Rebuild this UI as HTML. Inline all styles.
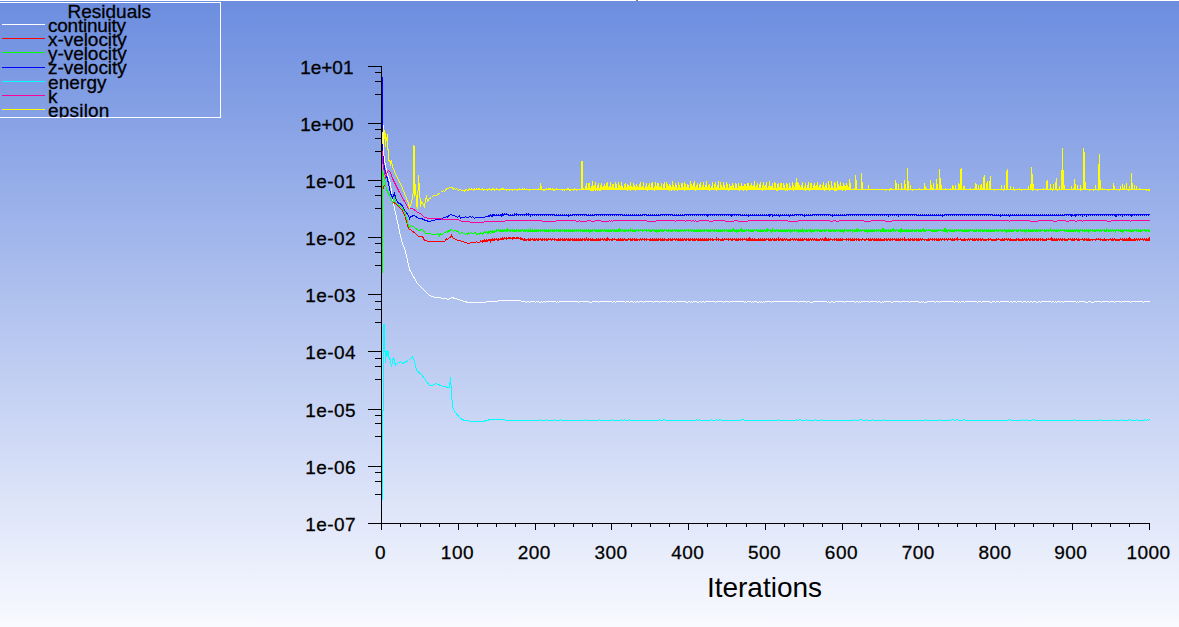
<!DOCTYPE html>
<html lang="en">
<head>
<meta charset="utf-8">
<title>Residuals</title>
<style>
  html, body { margin: 0; padding: 0; }
  body {
    width: 1179px; height: 627px; overflow: hidden;
    background: linear-gradient(to bottom, #6c8ddf 0px, #f9faff 627px);
    font-family: "Liberation Sans", Arial, sans-serif;
  }
  svg { display: block; position: absolute; left: 0; top: 0; }
  .crisp { shape-rendering: crispEdges; }
  text { font-family: "Liberation Sans", Arial, sans-serif; fill: #000; stroke: #000; stroke-width: 0.28px; }
  .legend text { font-size: 19px; letter-spacing: -0.12px; }
  .ticks text { font-size: 19px; letter-spacing: 0.45px; }
  .xlabel { font-size: 28px; stroke: none; }
  .curve { fill: none; stroke-width: 1; stroke-linejoin: miter; }
</style>
</head>
<body>
<svg width="1179" height="627" viewBox="0 0 1179 627">
  <defs>
    <clipPath id="legclip"><rect x="0" y="2" width="221" height="115.5"/></clipPath>
  </defs>
  <!-- window top edge -->
  <g class="crisp">
    <rect x="0" y="0" width="1179" height="1" fill="#ffffff"/>
    <rect x="636" y="0" width="2" height="1" fill="#857f6a"/>
  </g>

  <!-- legend -->
  <g class="legend">
    <g class="crisp" fill="none" stroke-width="1">
      <path d="M0,2.5 H220.5 V117.5 H0" stroke="#ffffff"/>
    </g>
    <g clip-path="url(#legclip)">
      <g class="crisp" fill="none" stroke-width="1">
        <path d="M2,24.5 H45" stroke="#ffffff" />
        <path d="M2,38.5 H45" stroke="#ff0000" />
        <path d="M2,52.5 H45" stroke="#00ff00" />
        <path d="M2,67.5 H45" stroke="#0000ff" />
        <path d="M2,81.5 H45" stroke="#00ffff" />
        <path d="M2,95.5 H45" stroke="#ff0099" />
        <path d="M2,109.5 H45" stroke="#ffff00" />
      </g>
      <text x="67.5" y="18" style="letter-spacing:0">Residuals</text>
      <text x="48" y="32.0" style="letter-spacing:-0.25px">continuity</text>
      <text x="48" y="46.1" style="letter-spacing:-0.05px">x-velocity</text>
      <text x="48" y="60.3" style="letter-spacing:-0.05px">y-velocity</text>
      <text x="48" y="74.4" style="letter-spacing:-0.05px">z-velocity</text>
      <text x="48" y="88.6" style="letter-spacing:0.10px">energy</text>
      <text x="48" y="102.7" style="letter-spacing:0.00px">k</text>
      <text x="48" y="116.8" style="letter-spacing:0.20px">epsilon</text>
    </g>
  </g>

  <!-- residual curves -->
  <g class="crisp">
    <polyline class="curve" stroke="#ffffff" points="383.5,124.5 383.5,150.5 384.5,160.5 385.5,165.5 387.5,174.5 390.5,183.5 392.5,199.5 394.5,208.5 398.5,226.5 401.5,240.5 405.5,251.5 409.5,269.5 417.5,283.5 429.5,295.5 435.5,297.5 445.5,298.5 448.5,299.5 451.5,297.5 455.5,298.5 464.5,301.5 468.5,302.5 485.5,302.5 486.5,301.5 497.5,301.5 498.5,300.5 520.5,300.5 521.5,301.5 522.5,301.5 523.5,301.5 524.5,301.5 525.5,301.5 526.5,302.5 527.5,301.5 528.5,301.5 529.5,302.5 530.5,301.5 531.5,301.5 532.5,301.5 533.5,301.5 534.5,301.5 535.5,302.5 536.5,301.5 537.5,301.5 538.5,301.5 539.5,302.5 540.5,302.5 541.5,301.5 542.5,302.5 543.5,301.5 544.5,301.5 545.5,302.5 546.5,301.5 547.5,301.5 548.5,301.5 549.5,301.5 550.5,301.5 551.5,301.5 552.5,301.5 553.5,301.5 554.5,301.5 555.5,301.5 556.5,302.5 557.5,301.5 558.5,302.5 559.5,301.5 560.5,301.5 561.5,301.5 562.5,301.5 563.5,301.5 564.5,301.5 565.5,301.5 566.5,301.5 567.5,301.5 568.5,301.5 569.5,301.5 570.5,301.5 571.5,301.5 572.5,301.5 573.5,301.5 574.5,301.5 575.5,301.5 576.5,301.5 577.5,301.5 578.5,302.5 579.5,301.5 580.5,301.5 581.5,301.5 582.5,301.5 583.5,301.5 584.5,301.5 585.5,301.5 586.5,301.5 587.5,301.5 588.5,301.5 589.5,302.5 590.5,302.5 591.5,302.5 592.5,301.5 593.5,301.5 594.5,301.5 595.5,301.5 596.5,301.5 597.5,301.5 598.5,302.5 599.5,301.5 600.5,301.5 601.5,301.5 602.5,301.5 603.5,301.5 604.5,301.5 605.5,301.5 606.5,301.5 607.5,301.5 608.5,301.5 609.5,301.5 610.5,301.5 611.5,301.5 612.5,302.5 613.5,301.5 614.5,301.5 615.5,302.5 616.5,301.5 617.5,301.5 618.5,301.5 619.5,301.5 620.5,301.5 621.5,301.5 622.5,301.5 623.5,301.5 624.5,301.5 625.5,302.5 626.5,301.5 627.5,301.5 628.5,301.5 629.5,302.5 630.5,301.5 631.5,301.5 632.5,301.5 633.5,302.5 634.5,301.5 635.5,302.5 636.5,301.5 637.5,301.5 638.5,302.5 639.5,301.5 640.5,301.5 641.5,301.5 642.5,301.5 643.5,302.5 644.5,301.5 645.5,301.5 646.5,301.5 647.5,301.5 648.5,301.5 649.5,301.5 650.5,301.5 651.5,301.5 652.5,301.5 653.5,302.5 654.5,301.5 655.5,301.5 656.5,301.5 657.5,301.5 658.5,301.5 659.5,302.5 660.5,301.5 661.5,301.5 662.5,301.5 663.5,301.5 664.5,301.5 665.5,301.5 666.5,301.5 667.5,302.5 668.5,301.5 669.5,301.5 670.5,301.5 671.5,301.5 672.5,302.5 673.5,301.5 674.5,301.5 675.5,302.5 676.5,301.5 677.5,301.5 678.5,301.5 679.5,301.5 680.5,301.5 681.5,301.5 682.5,301.5 683.5,301.5 684.5,301.5 685.5,301.5 686.5,302.5 687.5,302.5 688.5,301.5 689.5,301.5 690.5,302.5 691.5,301.5 692.5,302.5 693.5,301.5 694.5,301.5 695.5,301.5 696.5,301.5 697.5,302.5 698.5,302.5 699.5,301.5 700.5,301.5 701.5,302.5 702.5,301.5 703.5,301.5 704.5,302.5 705.5,301.5 706.5,301.5 707.5,301.5 708.5,301.5 709.5,301.5 710.5,301.5 711.5,301.5 712.5,301.5 713.5,301.5 714.5,301.5 715.5,302.5 716.5,301.5 717.5,301.5 718.5,301.5 719.5,301.5 720.5,301.5 721.5,301.5 722.5,301.5 723.5,302.5 724.5,301.5 725.5,301.5 726.5,301.5 727.5,301.5 728.5,301.5 729.5,302.5 730.5,301.5 731.5,301.5 732.5,301.5 733.5,301.5 734.5,301.5 735.5,301.5 736.5,301.5 737.5,301.5 738.5,301.5 739.5,301.5 740.5,301.5 741.5,301.5 742.5,301.5 743.5,301.5 744.5,302.5 745.5,301.5 746.5,302.5 747.5,301.5 748.5,301.5 749.5,301.5 750.5,301.5 751.5,302.5 752.5,301.5 753.5,302.5 754.5,301.5 755.5,301.5 756.5,301.5 757.5,302.5 758.5,302.5 759.5,301.5 760.5,302.5 761.5,301.5 762.5,302.5 763.5,301.5 764.5,302.5 765.5,301.5 766.5,301.5 767.5,301.5 768.5,301.5 769.5,301.5 770.5,301.5 771.5,302.5 772.5,301.5 773.5,301.5 774.5,301.5 775.5,301.5 776.5,301.5 777.5,301.5 778.5,301.5 779.5,301.5 780.5,301.5 781.5,301.5 782.5,301.5 783.5,301.5 784.5,301.5 785.5,301.5 786.5,301.5 787.5,301.5 788.5,301.5 789.5,301.5 790.5,301.5 791.5,301.5 792.5,301.5 793.5,301.5 794.5,301.5 795.5,301.5 796.5,301.5 797.5,301.5 798.5,302.5 799.5,301.5 800.5,301.5 801.5,301.5 802.5,301.5 803.5,301.5 804.5,301.5 805.5,301.5 806.5,302.5 807.5,301.5 808.5,301.5 809.5,301.5 810.5,302.5 811.5,302.5 812.5,302.5 813.5,301.5 814.5,301.5 815.5,301.5 816.5,301.5 817.5,301.5 818.5,301.5 819.5,301.5 820.5,301.5 821.5,301.5 822.5,301.5 823.5,301.5 824.5,301.5 825.5,301.5 826.5,301.5 827.5,302.5 828.5,301.5 829.5,302.5 830.5,302.5 831.5,301.5 832.5,301.5 833.5,302.5 834.5,302.5 835.5,301.5 836.5,301.5 837.5,301.5 838.5,301.5 839.5,301.5 840.5,301.5 841.5,301.5 842.5,301.5 843.5,301.5 844.5,302.5 845.5,301.5 846.5,301.5 847.5,301.5 848.5,301.5 849.5,301.5 850.5,301.5 851.5,301.5 852.5,301.5 853.5,301.5 854.5,301.5 855.5,302.5 856.5,301.5 857.5,301.5 858.5,302.5 859.5,301.5 860.5,302.5 861.5,301.5 862.5,301.5 863.5,301.5 864.5,301.5 865.5,301.5 866.5,301.5 867.5,301.5 868.5,301.5 869.5,302.5 870.5,301.5 871.5,301.5 872.5,301.5 873.5,301.5 874.5,301.5 875.5,301.5 876.5,301.5 877.5,302.5 878.5,301.5 879.5,301.5 880.5,302.5 881.5,302.5 882.5,301.5 883.5,302.5 884.5,301.5 885.5,301.5 886.5,301.5 887.5,301.5 888.5,301.5 889.5,301.5 890.5,301.5 891.5,302.5 892.5,302.5 893.5,301.5 894.5,301.5 895.5,301.5 896.5,301.5 897.5,301.5 898.5,301.5 899.5,301.5 900.5,302.5 901.5,301.5 902.5,301.5 903.5,301.5 904.5,301.5 905.5,301.5 906.5,301.5 907.5,301.5 908.5,301.5 909.5,302.5 910.5,301.5 911.5,301.5 912.5,301.5 913.5,301.5 914.5,301.5 915.5,301.5 916.5,301.5 917.5,301.5 918.5,301.5 919.5,302.5 920.5,302.5 921.5,301.5 922.5,302.5 923.5,301.5 924.5,302.5 925.5,302.5 926.5,302.5 927.5,301.5 928.5,301.5 929.5,301.5 930.5,301.5 931.5,301.5 932.5,301.5 933.5,301.5 934.5,301.5 935.5,302.5 936.5,301.5 937.5,301.5 938.5,301.5 939.5,302.5 940.5,301.5 941.5,301.5 942.5,301.5 943.5,301.5 944.5,301.5 945.5,301.5 946.5,301.5 947.5,301.5 948.5,301.5 949.5,301.5 950.5,301.5 951.5,301.5 952.5,301.5 953.5,301.5 954.5,302.5 955.5,301.5 956.5,301.5 957.5,301.5 958.5,302.5 959.5,301.5 960.5,302.5 961.5,301.5 962.5,301.5 963.5,301.5 964.5,302.5 965.5,301.5 966.5,301.5 967.5,301.5 968.5,301.5 969.5,301.5 970.5,301.5 971.5,301.5 972.5,301.5 973.5,301.5 974.5,301.5 975.5,301.5 976.5,301.5 977.5,302.5 978.5,301.5 979.5,301.5 980.5,301.5 981.5,302.5 982.5,301.5 983.5,301.5 984.5,301.5 985.5,301.5 986.5,301.5 987.5,301.5 988.5,301.5 989.5,301.5 990.5,302.5 991.5,302.5 992.5,301.5 993.5,301.5 994.5,301.5 995.5,302.5 996.5,301.5 997.5,301.5 998.5,301.5 999.5,302.5 1000.5,301.5 1001.5,301.5 1002.5,301.5 1003.5,301.5 1004.5,301.5 1005.5,301.5 1006.5,301.5 1007.5,301.5 1008.5,301.5 1009.5,302.5 1010.5,301.5 1011.5,301.5 1012.5,302.5 1013.5,301.5 1014.5,301.5 1015.5,301.5 1016.5,302.5 1017.5,301.5 1018.5,301.5 1019.5,301.5 1020.5,301.5 1021.5,301.5 1022.5,302.5 1023.5,301.5 1024.5,301.5 1025.5,301.5 1026.5,302.5 1027.5,301.5 1028.5,301.5 1029.5,302.5 1030.5,301.5 1031.5,301.5 1032.5,302.5 1033.5,301.5 1034.5,301.5 1035.5,301.5 1036.5,302.5 1037.5,302.5 1038.5,301.5 1039.5,301.5 1040.5,302.5 1041.5,301.5 1042.5,301.5 1043.5,301.5 1044.5,301.5 1045.5,301.5 1046.5,301.5 1047.5,301.5 1048.5,301.5 1049.5,301.5 1050.5,301.5 1051.5,302.5 1052.5,301.5 1053.5,301.5 1054.5,302.5 1055.5,301.5 1056.5,302.5 1057.5,301.5 1058.5,301.5 1059.5,301.5 1060.5,302.5 1061.5,301.5 1062.5,301.5 1063.5,302.5 1064.5,301.5 1065.5,301.5 1066.5,301.5 1067.5,301.5 1068.5,301.5 1069.5,301.5 1070.5,301.5 1071.5,301.5 1072.5,301.5 1073.5,301.5 1074.5,301.5 1075.5,301.5 1076.5,302.5 1077.5,301.5 1078.5,302.5 1079.5,301.5 1080.5,301.5 1081.5,301.5 1082.5,301.5 1083.5,301.5 1084.5,301.5 1085.5,302.5 1086.5,302.5 1087.5,302.5 1088.5,301.5 1089.5,301.5 1090.5,301.5 1091.5,302.5 1092.5,302.5 1093.5,302.5 1094.5,301.5 1095.5,301.5 1096.5,301.5 1097.5,301.5 1098.5,301.5 1099.5,301.5 1100.5,301.5 1101.5,302.5 1102.5,301.5 1103.5,301.5 1104.5,301.5 1105.5,301.5 1106.5,301.5 1107.5,301.5 1108.5,301.5 1109.5,302.5 1110.5,301.5 1111.5,301.5 1112.5,301.5 1113.5,301.5 1114.5,302.5 1115.5,301.5 1116.5,301.5 1117.5,301.5 1118.5,301.5 1119.5,301.5 1120.5,301.5 1121.5,302.5 1122.5,301.5 1123.5,301.5 1124.5,301.5 1125.5,301.5 1126.5,301.5 1127.5,301.5 1128.5,301.5 1129.5,301.5 1130.5,302.5 1131.5,301.5 1132.5,301.5 1133.5,301.5 1134.5,301.5 1135.5,301.5 1136.5,301.5 1137.5,301.5 1138.5,301.5 1139.5,301.5 1140.5,301.5 1141.5,301.5 1142.5,301.5 1143.5,302.5 1144.5,301.5 1145.5,301.5 1146.5,301.5 1147.5,301.5 1148.5,301.5 1149.5,301.5"/>
    <polyline class="curve" stroke="#ff0000" points="382.5,200.5 382.5,192.5 383.5,186.5 385.5,184.5 386.5,189.5 389.5,196.5 392.5,201.5 396.5,204.5 401.5,209.5 404.5,214.5 406.5,221.5 408.5,228.5 411.5,230.5 415.5,233.5 418.5,236.5 422.5,236.5 424.5,240.5 429.5,241.5 438.5,241.5 440.5,241.5 441.5,241.5 442.5,241.5 443.5,241.5 444.5,241.5 445.5,240.5 446.5,238.5 447.5,239.5 448.5,238.5 449.5,237.5 450.5,237.5 451.5,235.5 452.5,237.5 453.5,238.5 454.5,238.5 455.5,239.5 456.5,239.5 457.5,240.5 458.5,240.5 459.5,240.5 460.5,240.5 461.5,241.5 462.5,241.5 463.5,241.5 464.5,242.5 465.5,242.5 466.5,242.5 467.5,243.5 468.5,243.5 469.5,243.5 470.5,242.5 471.5,242.5 472.5,242.5 473.5,242.5 474.5,242.5 475.5,242.5 476.5,241.5 477.5,242.5 478.5,242.5 479.5,242.5 480.5,241.5 481.5,241.5 482.5,242.5 483.5,241.5 484.5,241.5 485.5,241.5 486.5,241.5 487.5,241.5 488.5,240.5 489.5,239.5 490.5,241.5 491.5,239.5 492.5,240.5 493.5,240.5 494.5,240.5 495.5,239.5 496.5,239.5 497.5,240.5 498.5,240.5 499.5,239.5 500.5,238.5 501.5,239.5 502.5,239.5 503.5,239.5 504.5,238.5 505.5,238.5 506.5,239.5 507.5,238.5 508.5,238.5 509.5,237.5 510.5,238.5 511.5,238.5 512.5,239.5 513.5,237.5 514.5,238.5 515.5,238.5 516.5,238.5 517.5,237.5 518.5,238.5 519.5,238.5 520.5,239.5 521.5,239.5 522.5,238.5"/>
    <path class="curve" stroke="#ff0000" d="M480.5,240 V242 M481.5,241 V242 M482.5,240 V242 M483.5,240 V241 M484.5,239 V241 M485.5,240 V241 M486.5,239 V241 M487.5,240 V241 M488.5,239 V241 M489.5,240 V241 M490.5,239 V241 M491.5,239 V240 M492.5,238 V240 M493.5,239 V240 M494.5,238 V240 M495.5,239 V240 M496.5,238 V240 M497.5,239 V240 M498.5,238 V240 M499.5,239 V240 M500.5,238 V240 M501.5,238 V239 M502.5,237 V239 M503.5,238 V239 M504.5,237 V239 M505.5,238 V239 M506.5,237 V239 M507.5,238 V239 M508.5,237 V239 M509.5,238 V239 M510.5,237 V239 M511.5,238 V239 M512.5,237 V239 M513.5,238 V239 M514.5,237 V239 M515.5,238 V239 M516.5,237 V239 M517.5,238 V239 M518.5,237 V239 M519.5,238 V239 M520.5,237 V239 M521.5,238 V239 M522.5,238 V240 M523.5,239 V241 M524.5,238 V241 M525.5,239 V241 M526.5,239 V241 M527.5,239 V240 M528.5,238 V241 M529.5,239 V241 M530.5,238 V241 M531.5,239 V240 M532.5,238 V240 M533.5,239 V241 M534.5,238 V241 M535.5,239 V241 M536.5,238 V240 M537.5,239 V241 M538.5,238 V241 M539.5,239 V240 M540.5,238 V240 M541.5,239 V241 M542.5,238 V241 M543.5,239 V240 M544.5,238 V241 M545.5,239 V240 M546.5,238 V241 M547.5,239 V241 M548.5,238 V240 M549.5,239 V240 M550.5,238 V240 M551.5,239 V241 M552.5,238 V240 M553.5,239 V240 M554.5,238 V241 M555.5,239 V240 M556.5,239 V241 M557.5,239 V241 M558.5,238 V241 M559.5,239 V241 M560.5,238 V241 M561.5,239 V240 M562.5,238 V241 M563.5,239 V241 M564.5,238 V241 M565.5,239 V241 M566.5,238 V240 M567.5,239 V241 M568.5,238 V241 M569.5,239 V241 M570.5,238 V241 M571.5,239 V240 M572.5,238 V241 M573.5,239 V241 M574.5,238 V241 M575.5,239 V241 M576.5,238 V241 M577.5,239 V241 M578.5,238 V241 M579.5,239 V241 M580.5,238 V241 M581.5,239 V241 M582.5,238 V241 M583.5,239 V240 M584.5,238 V241 M585.5,239 V241 M586.5,237 V240 M587.5,239 V241 M588.5,238 V241 M589.5,239 V240 M590.5,238 V241 M591.5,239 V241 M592.5,238 V241 M593.5,239 V241 M594.5,239 V241 M595.5,239 V241 M596.5,238 V241 M597.5,239 V241 M598.5,238 V241 M599.5,239 V241 M600.5,238 V241 M601.5,239 V240 M602.5,238 V240 M603.5,239 V241 M604.5,238 V240 M605.5,239 V241 M606.5,238 V241 M607.5,237 V241 M608.5,238 V240 M609.5,239 V241 M610.5,239 V240 M611.5,239 V241 M612.5,238 V241 M613.5,239 V240 M614.5,238 V240 M615.5,239 V240 M616.5,239 V241 M617.5,239 V241 M618.5,238 V241 M619.5,239 V241 M620.5,238 V241 M621.5,239 V241 M622.5,238 V241 M623.5,239 V241 M624.5,238 V240 M625.5,239 V241 M626.5,239 V241 M627.5,239 V241 M628.5,238 V240 M629.5,239 V240 M630.5,238 V241 M631.5,239 V241 M632.5,238 V241 M633.5,239 V240 M634.5,238 V241 M635.5,239 V241 M636.5,238 V241 M637.5,239 V241 M638.5,239 V240 M639.5,239 V241 M640.5,238 V240 M641.5,239 V241 M642.5,238 V240 M643.5,239 V240 M644.5,238 V241 M645.5,239 V240 M646.5,238 V241 M647.5,239 V240 M648.5,239 V240 M649.5,239 V241 M650.5,238 V241 M651.5,239 V241 M652.5,238 V241 M653.5,239 V241 M654.5,238 V241 M655.5,239 V241 M656.5,238 V241 M657.5,239 V241 M658.5,238 V241 M659.5,239 V240 M660.5,238 V241 M661.5,239 V241 M662.5,238 V241 M663.5,239 V241 M664.5,238 V241 M665.5,239 V240 M666.5,239 V241 M667.5,239 V241 M668.5,238 V241 M669.5,239 V240 M670.5,238 V241 M671.5,239 V241 M672.5,238 V241 M673.5,239 V240 M674.5,238 V240 M675.5,239 V241 M676.5,238 V240 M677.5,239 V241 M678.5,238 V241 M679.5,239 V241 M680.5,238 V241 M681.5,239 V241 M682.5,238 V241 M683.5,239 V241 M684.5,238 V240 M685.5,239 V241 M686.5,238 V241 M687.5,239 V240 M688.5,238 V241 M689.5,239 V241 M690.5,238 V241 M691.5,239 V240 M692.5,238 V241 M693.5,239 V241 M694.5,238 V241 M695.5,239 V241 M696.5,238 V240 M697.5,239 V241 M698.5,238 V241 M699.5,239 V241 M700.5,238 V241 M701.5,239 V241 M702.5,238 V241 M703.5,239 V241 M704.5,238 V241 M705.5,239 V241 M706.5,238 V241 M707.5,239 V241 M708.5,238 V241 M709.5,239 V240 M710.5,238 V241 M711.5,239 V240 M712.5,238 V241 M713.5,239 V241 M714.5,239 V240 M715.5,239 V240 M716.5,237 V241 M717.5,239 V240 M718.5,238 V241 M719.5,239 V240 M720.5,239 V241 M721.5,239 V241 M722.5,238 V241 M723.5,239 V241 M724.5,238 V240 M725.5,239 V240 M726.5,238 V240 M727.5,239 V240 M728.5,238 V241 M729.5,239 V240 M730.5,238 V240 M731.5,239 V241 M732.5,238 V241 M733.5,239 V240 M734.5,238 V240 M735.5,239 V241 M736.5,238 V241 M737.5,239 V241 M738.5,238 V241 M739.5,239 V240 M740.5,238 V241 M741.5,239 V240 M742.5,238 V241 M743.5,239 V240 M744.5,238 V240 M745.5,239 V240 M746.5,238 V241 M747.5,239 V241 M748.5,238 V241 M749.5,237 V241 M750.5,238 V241 M751.5,239 V241 M752.5,238 V241 M753.5,239 V241 M754.5,238 V241 M755.5,239 V241 M756.5,239 V241 M757.5,239 V241 M758.5,238 V241 M759.5,239 V241 M760.5,238 V241 M761.5,239 V241 M762.5,238 V241 M763.5,239 V241 M764.5,238 V241 M765.5,239 V241 M766.5,238 V240 M767.5,239 V240 M768.5,238 V241 M769.5,239 V241 M770.5,238 V241 M771.5,239 V241 M772.5,238 V240 M773.5,239 V241 M774.5,238 V241 M775.5,239 V241 M776.5,238 V241 M777.5,239 V240 M778.5,237 V241 M779.5,239 V241 M780.5,238 V240 M781.5,239 V241 M782.5,238 V241 M783.5,239 V241 M784.5,238 V240 M785.5,239 V241 M786.5,238 V240 M787.5,239 V241 M788.5,239 V241 M789.5,239 V241 M790.5,238 V241 M791.5,239 V240 M792.5,238 V240 M793.5,239 V241 M794.5,238 V240 M795.5,239 V241 M796.5,238 V240 M797.5,239 V241 M798.5,238 V241 M799.5,239 V241 M800.5,238 V241 M801.5,239 V241 M802.5,238 V241 M803.5,239 V241 M804.5,238 V240 M805.5,239 V240 M806.5,238 V241 M807.5,239 V241 M808.5,238 V241 M809.5,239 V241 M810.5,238 V240 M811.5,239 V241 M812.5,238 V240 M813.5,239 V241 M814.5,238 V240 M815.5,239 V241 M816.5,238 V241 M817.5,239 V241 M818.5,239 V241 M819.5,239 V241 M820.5,238 V240 M821.5,239 V241 M822.5,238 V240 M823.5,239 V241 M824.5,238 V241 M825.5,237 V241 M826.5,238 V241 M827.5,239 V241 M828.5,238 V241 M829.5,239 V241 M830.5,238 V240 M831.5,239 V240 M832.5,239 V241 M833.5,239 V240 M834.5,238 V241 M835.5,239 V240 M836.5,238 V241 M837.5,239 V241 M838.5,238 V241 M839.5,239 V241 M840.5,238 V241 M841.5,239 V241 M842.5,238 V241 M843.5,239 V240 M844.5,239 V240 M845.5,239 V240 M846.5,238 V241 M847.5,239 V240 M848.5,238 V241 M849.5,239 V240 M850.5,238 V241 M851.5,239 V241 M852.5,238 V241 M853.5,239 V241 M854.5,238 V241 M855.5,239 V240 M856.5,238 V241 M857.5,239 V240 M858.5,238 V241 M859.5,239 V241 M860.5,239 V240 M861.5,239 V241 M862.5,238 V240 M863.5,239 V240 M864.5,239 V241 M865.5,239 V241 M866.5,238 V240 M867.5,239 V240 M868.5,238 V241 M869.5,239 V241 M870.5,238 V241 M871.5,239 V241 M872.5,238 V240 M873.5,239 V241 M874.5,238 V241 M875.5,239 V241 M876.5,238 V241 M877.5,239 V241 M878.5,238 V241 M879.5,239 V241 M880.5,238 V241 M881.5,239 V241 M882.5,239 V241 M883.5,239 V241 M884.5,238 V241 M885.5,239 V240 M886.5,238 V241 M887.5,239 V241 M888.5,238 V240 M889.5,239 V241 M890.5,238 V241 M891.5,239 V240 M892.5,238 V241 M893.5,239 V240 M894.5,238 V240 M895.5,239 V241 M896.5,238 V241 M897.5,239 V241 M898.5,238 V241 M899.5,239 V241 M900.5,238 V241 M901.5,239 V240 M902.5,238 V241 M903.5,239 V240 M904.5,237 V241 M905.5,239 V241 M906.5,239 V241 M907.5,239 V240 M908.5,238 V241 M909.5,239 V241 M910.5,238 V241 M911.5,239 V240 M912.5,238 V241 M913.5,239 V241 M914.5,238 V241 M915.5,239 V240 M916.5,238 V241 M917.5,239 V241 M918.5,238 V241 M919.5,239 V241 M920.5,238 V240 M921.5,239 V241 M922.5,238 V240 M923.5,239 V240 M924.5,239 V241 M925.5,239 V240 M926.5,239 V241 M927.5,239 V241 M928.5,238 V241 M929.5,239 V241 M930.5,238 V240 M931.5,239 V240 M932.5,238 V241 M933.5,239 V240 M934.5,238 V241 M935.5,239 V240 M936.5,238 V241 M937.5,239 V241 M938.5,238 V241 M939.5,239 V241 M940.5,238 V240 M941.5,239 V241 M942.5,238 V240 M943.5,239 V240 M944.5,238 V241 M945.5,239 V240 M946.5,238 V240 M947.5,239 V241 M948.5,238 V240 M949.5,239 V240 M950.5,238 V240 M951.5,239 V241 M952.5,238 V241 M953.5,239 V241 M954.5,238 V241 M955.5,239 V240 M956.5,238 V240 M957.5,237 V241 M958.5,239 V240 M959.5,239 V240 M960.5,238 V240 M961.5,239 V241 M962.5,239 V241 M963.5,239 V241 M964.5,238 V241 M965.5,239 V241 M966.5,239 V240 M967.5,239 V241 M968.5,238 V240 M969.5,239 V241 M970.5,238 V240 M971.5,239 V240 M972.5,238 V241 M973.5,239 V241 M974.5,238 V241 M975.5,239 V241 M976.5,238 V240 M977.5,239 V241 M978.5,238 V241 M979.5,239 V240 M980.5,238 V241 M981.5,239 V241 M982.5,238 V240 M983.5,239 V241 M984.5,239 V241 M985.5,239 V241 M986.5,239 V241 M987.5,239 V240 M988.5,238 V241 M989.5,239 V240 M990.5,238 V240 M991.5,239 V241 M992.5,239 V241 M993.5,239 V241 M994.5,239 V241 M995.5,239 V241 M996.5,238 V241 M997.5,239 V240 M998.5,238 V240 M999.5,239 V240 M1000.5,239 V241 M1001.5,239 V241 M1002.5,238 V241 M1003.5,239 V241 M1004.5,238 V241 M1005.5,239 V240 M1006.5,238 V240 M1007.5,239 V241 M1008.5,238 V240 M1009.5,239 V241 M1010.5,238 V241 M1011.5,239 V241 M1012.5,239 V241 M1013.5,239 V241 M1014.5,239 V241 M1015.5,239 V241 M1016.5,238 V241 M1017.5,239 V240 M1018.5,238 V241 M1019.5,239 V241 M1020.5,239 V241 M1021.5,239 V241 M1022.5,238 V241 M1023.5,239 V241 M1024.5,238 V240 M1025.5,239 V241 M1026.5,238 V241 M1027.5,239 V241 M1028.5,238 V240 M1029.5,239 V241 M1030.5,238 V241 M1031.5,239 V240 M1032.5,238 V241 M1033.5,239 V241 M1034.5,238 V241 M1035.5,239 V240 M1036.5,238 V241 M1037.5,239 V241 M1038.5,238 V241 M1039.5,239 V240 M1040.5,238 V241 M1041.5,239 V240 M1042.5,238 V241 M1043.5,239 V241 M1044.5,239 V241 M1045.5,239 V241 M1046.5,238 V241 M1047.5,239 V240 M1048.5,238 V240 M1049.5,239 V240 M1050.5,238 V240 M1051.5,237 V241 M1052.5,238 V241 M1053.5,239 V241 M1054.5,238 V241 M1055.5,239 V241 M1056.5,238 V241 M1057.5,239 V241 M1058.5,238 V240 M1059.5,239 V241 M1060.5,238 V240 M1061.5,239 V241 M1062.5,238 V241 M1063.5,239 V240 M1064.5,238 V241 M1065.5,239 V241 M1066.5,239 V241 M1067.5,239 V241 M1068.5,238 V240 M1069.5,239 V240 M1070.5,238 V240 M1071.5,239 V241 M1072.5,238 V241 M1073.5,239 V241 M1074.5,238 V241 M1075.5,239 V240 M1076.5,238 V240 M1077.5,239 V241 M1078.5,238 V241 M1079.5,239 V241 M1080.5,239 V240 M1081.5,239 V240 M1082.5,238 V240 M1083.5,239 V241 M1084.5,238 V241 M1085.5,239 V240 M1086.5,238 V241 M1087.5,239 V241 M1088.5,238 V241 M1089.5,239 V241 M1090.5,239 V241 M1091.5,239 V240 M1092.5,239 V241 M1093.5,239 V240 M1094.5,239 V240 M1095.5,239 V241 M1096.5,238 V240 M1097.5,239 V240 M1098.5,238 V240 M1099.5,239 V240 M1100.5,238 V241 M1101.5,239 V240 M1102.5,239 V241 M1103.5,239 V241 M1104.5,238 V241 M1105.5,239 V241 M1106.5,239 V241 M1107.5,239 V240 M1108.5,239 V241 M1109.5,239 V240 M1110.5,238 V240 M1111.5,239 V241 M1112.5,238 V241 M1113.5,239 V241 M1114.5,238 V240 M1115.5,239 V241 M1116.5,239 V241 M1117.5,239 V241 M1118.5,239 V241 M1119.5,239 V241 M1120.5,238 V240 M1121.5,239 V240 M1122.5,238 V241 M1123.5,239 V241 M1124.5,238 V241 M1125.5,239 V241 M1126.5,238 V241 M1127.5,239 V241 M1128.5,238 V241 M1129.5,237 V241 M1130.5,238 V241 M1131.5,239 V241 M1132.5,239 V241 M1133.5,239 V241 M1134.5,238 V241 M1135.5,239 V241 M1136.5,238 V240 M1137.5,239 V241 M1138.5,238 V240 M1139.5,239 V241 M1140.5,238 V240 M1141.5,239 V240 M1142.5,238 V240 M1143.5,239 V241 M1144.5,238 V240 M1145.5,239 V241 M1146.5,238 V241 M1147.5,239 V241 M1148.5,238 V241 M1149.5,237 V241"/>
    <polyline class="curve" stroke="#00ff00" points="382.5,272.5 382.5,170.5 384.5,178.5 386.5,189.5 389.5,195.5 392.5,202.5 394.5,197.5 395.5,202.5 397.5,204.5 401.5,207.5 404.5,211.5 406.5,218.5 408.5,225.5 409.5,227.5 411.5,225.5 414.5,227.5 418.5,230.5 422.5,229.5 425.5,233.5 430.5,233.5 431.5,234.5 432.5,234.5 433.5,234.5 434.5,234.5 435.5,234.5 436.5,233.5 437.5,234.5 438.5,233.5 439.5,235.5 440.5,233.5 441.5,234.5 442.5,234.5 443.5,233.5 444.5,232.5 445.5,232.5 446.5,231.5 447.5,232.5 448.5,230.5 449.5,231.5 450.5,229.5 451.5,229.5 452.5,230.5 453.5,231.5 454.5,230.5 455.5,230.5 456.5,231.5 457.5,230.5 458.5,232.5 459.5,233.5 460.5,233.5 461.5,232.5 462.5,232.5 463.5,233.5 464.5,233.5 465.5,234.5 466.5,233.5 467.5,234.5 468.5,232.5 469.5,233.5 470.5,233.5 471.5,232.5 472.5,233.5 473.5,233.5 474.5,232.5 475.5,232.5 476.5,234.5 477.5,234.5 478.5,233.5 479.5,234.5 480.5,232.5 481.5,233.5 482.5,234.5 483.5,232.5 484.5,232.5 485.5,232.5 486.5,232.5 487.5,233.5 488.5,232.5 489.5,232.5 490.5,233.5 491.5,232.5 492.5,231.5 493.5,232.5 494.5,230.5 495.5,231.5 496.5,231.5 497.5,230.5 498.5,230.5 499.5,230.5 500.5,231.5 501.5,230.5 502.5,231.5 503.5,230.5"/>
    <path class="curve" stroke="#00ff00" d="M484.5,231 V233 M485.5,232 V233 M486.5,231 V233 M487.5,232 V234 M488.5,231 V234 M489.5,231 V233 M490.5,230 V232 M491.5,231 V233 M492.5,230 V233 M493.5,231 V233 M494.5,230 V233 M495.5,231 V232 M496.5,229 V232 M497.5,230 V231 M498.5,229 V231 M499.5,230 V232 M500.5,229 V231 M501.5,230 V232 M502.5,229 V232 M503.5,230 V232 M504.5,229 V232 M505.5,230 V231 M506.5,229 V232 M507.5,228 V232 M508.5,229 V231 M509.5,230 V232 M510.5,229 V232 M511.5,230 V231 M512.5,229 V232 M513.5,230 V232 M514.5,229 V232 M515.5,230 V232 M516.5,229 V232 M517.5,230 V231 M518.5,229 V232 M519.5,230 V232 M520.5,229 V232 M521.5,230 V231 M522.5,229 V231 M523.5,230 V232 M524.5,229 V232 M525.5,230 V232 M526.5,229 V231 M527.5,230 V232 M528.5,229 V232 M529.5,230 V232 M530.5,228 V232 M531.5,230 V232 M532.5,229 V232 M533.5,230 V232 M534.5,229 V232 M535.5,230 V232 M536.5,229 V232 M537.5,230 V232 M538.5,229 V232 M539.5,230 V231 M540.5,229 V232 M541.5,230 V231 M542.5,229 V232 M543.5,230 V231 M544.5,229 V232 M545.5,230 V232 M546.5,229 V232 M547.5,230 V232 M548.5,229 V232 M549.5,230 V232 M550.5,229 V232 M551.5,230 V231 M552.5,229 V232 M553.5,230 V232 M554.5,229 V232 M555.5,230 V231 M556.5,229 V232 M557.5,230 V231 M558.5,229 V232 M559.5,230 V232 M560.5,229 V232 M561.5,230 V231 M562.5,229 V232 M563.5,230 V231 M564.5,229 V232 M565.5,230 V232 M566.5,229 V232 M567.5,230 V231 M568.5,229 V232 M569.5,230 V232 M570.5,229 V232 M571.5,230 V232 M572.5,229 V232 M573.5,230 V232 M574.5,229 V232 M575.5,230 V231 M576.5,229 V232 M577.5,230 V231 M578.5,229 V232 M579.5,230 V231 M580.5,229 V232 M581.5,230 V231 M582.5,229 V232 M583.5,230 V232 M584.5,229 V232 M585.5,230 V232 M586.5,229 V232 M587.5,230 V231 M588.5,229 V232 M589.5,230 V233 M590.5,229 V232 M591.5,230 V232 M592.5,229 V232 M593.5,230 V231 M594.5,229 V231 M595.5,230 V232 M596.5,229 V232 M597.5,230 V232 M598.5,229 V232 M599.5,230 V232 M600.5,229 V232 M601.5,230 V232 M602.5,229 V231 M603.5,230 V232 M604.5,229 V231 M605.5,230 V232 M606.5,229 V232 M607.5,230 V232 M608.5,229 V232 M609.5,230 V232 M610.5,229 V232 M611.5,230 V232 M612.5,229 V231 M613.5,230 V232 M614.5,229 V232 M615.5,230 V232 M616.5,229 V232 M617.5,230 V232 M618.5,229 V232 M619.5,228 V232 M620.5,229 V231 M621.5,230 V232 M622.5,229 V231 M623.5,230 V232 M624.5,229 V232 M625.5,230 V232 M626.5,229 V231 M627.5,230 V232 M628.5,229 V232 M629.5,230 V231 M630.5,228 V232 M631.5,230 V231 M632.5,229 V232 M633.5,230 V232 M634.5,229 V232 M635.5,230 V232 M636.5,229 V231 M637.5,230 V231 M638.5,229 V232 M639.5,230 V231 M640.5,229 V231 M641.5,230 V231 M642.5,229 V232 M643.5,230 V231 M644.5,229 V231 M645.5,230 V231 M646.5,229 V232 M647.5,230 V231 M648.5,229 V231 M649.5,230 V232 M650.5,229 V232 M651.5,230 V232 M652.5,229 V231 M653.5,230 V231 M654.5,229 V232 M655.5,230 V232 M656.5,229 V233 M657.5,230 V232 M658.5,229 V232 M659.5,230 V232 M660.5,229 V231 M661.5,230 V232 M662.5,229 V232 M663.5,230 V232 M664.5,229 V231 M665.5,230 V231 M666.5,229 V231 M667.5,230 V232 M668.5,229 V232 M669.5,230 V231 M670.5,229 V232 M671.5,230 V232 M672.5,229 V232 M673.5,230 V231 M674.5,229 V231 M675.5,230 V232 M676.5,229 V231 M677.5,230 V232 M678.5,229 V232 M679.5,230 V232 M680.5,229 V231 M681.5,230 V232 M682.5,229 V231 M683.5,230 V232 M684.5,229 V231 M685.5,230 V232 M686.5,229 V231 M687.5,230 V231 M688.5,229 V232 M689.5,230 V231 M690.5,229 V231 M691.5,230 V232 M692.5,229 V231 M693.5,230 V232 M694.5,229 V232 M695.5,230 V232 M696.5,229 V232 M697.5,230 V232 M698.5,229 V232 M699.5,230 V232 M700.5,229 V232 M701.5,230 V232 M702.5,229 V231 M703.5,230 V232 M704.5,229 V232 M705.5,230 V231 M706.5,229 V231 M707.5,230 V232 M708.5,229 V232 M709.5,230 V232 M710.5,229 V232 M711.5,230 V231 M712.5,229 V231 M713.5,230 V232 M714.5,229 V232 M715.5,230 V231 M716.5,229 V232 M717.5,230 V232 M718.5,229 V232 M719.5,230 V232 M720.5,229 V232 M721.5,230 V232 M722.5,229 V232 M723.5,230 V231 M724.5,229 V232 M725.5,230 V231 M726.5,229 V231 M727.5,230 V232 M728.5,229 V232 M729.5,230 V232 M730.5,229 V232 M731.5,230 V232 M732.5,229 V232 M733.5,228 V231 M734.5,229 V232 M735.5,230 V232 M736.5,229 V233 M737.5,230 V232 M738.5,229 V232 M739.5,230 V232 M740.5,229 V231 M741.5,228 V232 M742.5,229 V232 M743.5,230 V232 M744.5,229 V232 M745.5,230 V232 M746.5,229 V231 M747.5,230 V231 M748.5,229 V232 M749.5,230 V231 M750.5,229 V232 M751.5,230 V232 M752.5,229 V232 M753.5,230 V232 M754.5,229 V231 M755.5,230 V231 M756.5,229 V231 M757.5,230 V232 M758.5,229 V232 M759.5,230 V232 M760.5,229 V232 M761.5,230 V232 M762.5,229 V232 M763.5,230 V232 M764.5,229 V231 M765.5,230 V232 M766.5,229 V232 M767.5,228 V232 M768.5,229 V231 M769.5,230 V231 M770.5,229 V232 M771.5,230 V233 M772.5,228 V232 M773.5,230 V231 M774.5,229 V232 M775.5,230 V232 M776.5,229 V231 M777.5,230 V232 M778.5,229 V232 M779.5,230 V232 M780.5,229 V232 M781.5,230 V232 M782.5,229 V232 M783.5,230 V232 M784.5,229 V232 M785.5,230 V232 M786.5,229 V232 M787.5,230 V232 M788.5,229 V231 M789.5,230 V232 M790.5,229 V233 M791.5,230 V232 M792.5,229 V232 M793.5,230 V231 M794.5,229 V232 M795.5,230 V231 M796.5,229 V231 M797.5,230 V232 M798.5,229 V233 M799.5,230 V232 M800.5,229 V232 M801.5,230 V232 M802.5,228 V232 M803.5,230 V233 M804.5,229 V231 M805.5,230 V232 M806.5,229 V232 M807.5,230 V232 M808.5,229 V231 M809.5,230 V232 M810.5,229 V232 M811.5,230 V233 M812.5,229 V232 M813.5,230 V232 M814.5,229 V232 M815.5,230 V231 M816.5,229 V231 M817.5,230 V232 M818.5,229 V231 M819.5,230 V232 M820.5,229 V232 M821.5,230 V232 M822.5,229 V232 M823.5,230 V231 M824.5,229 V232 M825.5,230 V232 M826.5,229 V231 M827.5,230 V231 M828.5,229 V232 M829.5,230 V232 M830.5,229 V232 M831.5,230 V232 M832.5,229 V231 M833.5,230 V232 M834.5,229 V232 M835.5,230 V232 M836.5,229 V231 M837.5,230 V232 M838.5,229 V231 M839.5,230 V232 M840.5,229 V232 M841.5,230 V232 M842.5,229 V232 M843.5,230 V233 M844.5,229 V232 M845.5,230 V231 M846.5,229 V231 M847.5,230 V232 M848.5,229 V232 M849.5,230 V231 M850.5,229 V232 M851.5,230 V231 M852.5,229 V233 M853.5,230 V231 M854.5,229 V232 M855.5,230 V232 M856.5,229 V232 M857.5,228 V232 M858.5,229 V231 M859.5,230 V232 M860.5,229 V231 M861.5,230 V232 M862.5,229 V231 M863.5,230 V231 M864.5,229 V232 M865.5,230 V232 M866.5,229 V232 M867.5,230 V233 M868.5,229 V232 M869.5,230 V232 M870.5,229 V232 M871.5,230 V232 M872.5,229 V232 M873.5,230 V232 M874.5,229 V232 M875.5,230 V231 M876.5,229 V232 M877.5,230 V231 M878.5,229 V232 M879.5,230 V231 M880.5,229 V232 M881.5,230 V232 M882.5,228 V232 M883.5,228 V232 M884.5,229 V232 M885.5,230 V232 M886.5,229 V232 M887.5,230 V231 M888.5,229 V232 M889.5,230 V232 M890.5,229 V232 M891.5,230 V232 M892.5,229 V231 M893.5,228 V232 M894.5,229 V231 M895.5,230 V232 M896.5,229 V231 M897.5,230 V231 M898.5,229 V232 M899.5,230 V232 M900.5,229 V233 M901.5,228 V232 M902.5,229 V232 M903.5,230 V232 M904.5,229 V232 M905.5,230 V232 M906.5,229 V232 M907.5,230 V232 M908.5,229 V232 M909.5,230 V232 M910.5,229 V232 M911.5,230 V232 M912.5,229 V232 M913.5,230 V231 M914.5,229 V232 M915.5,230 V232 M916.5,229 V232 M917.5,230 V231 M918.5,229 V232 M919.5,230 V232 M920.5,229 V232 M921.5,230 V232 M922.5,229 V231 M923.5,228 V232 M924.5,229 V232 M925.5,230 V232 M926.5,229 V231 M927.5,230 V231 M928.5,229 V231 M929.5,230 V231 M930.5,229 V231 M931.5,230 V232 M932.5,229 V232 M933.5,230 V232 M934.5,229 V232 M935.5,230 V232 M936.5,229 V232 M937.5,230 V232 M938.5,229 V231 M939.5,230 V231 M940.5,229 V231 M941.5,230 V231 M942.5,229 V231 M943.5,230 V232 M944.5,228 V232 M945.5,228 V232 M946.5,229 V232 M947.5,230 V233 M948.5,229 V231 M949.5,230 V232 M950.5,229 V232 M951.5,230 V232 M952.5,229 V232 M953.5,230 V232 M954.5,229 V232 M955.5,230 V231 M956.5,229 V232 M957.5,230 V231 M958.5,229 V231 M959.5,230 V232 M960.5,229 V231 M961.5,230 V232 M962.5,229 V232 M963.5,230 V232 M964.5,229 V232 M965.5,230 V232 M966.5,229 V232 M967.5,230 V232 M968.5,229 V232 M969.5,230 V232 M970.5,229 V231 M971.5,230 V231 M972.5,229 V231 M973.5,230 V232 M974.5,229 V232 M975.5,230 V232 M976.5,229 V232 M977.5,230 V231 M978.5,229 V232 M979.5,230 V232 M980.5,229 V232 M981.5,230 V231 M982.5,229 V232 M983.5,230 V232 M984.5,229 V232 M985.5,230 V231 M986.5,229 V232 M987.5,230 V232 M988.5,229 V232 M989.5,230 V232 M990.5,229 V232 M991.5,230 V232 M992.5,229 V232 M993.5,230 V232 M994.5,229 V232 M995.5,230 V231 M996.5,229 V231 M997.5,230 V232 M998.5,229 V232 M999.5,230 V231 M1000.5,229 V231 M1001.5,230 V232 M1002.5,229 V232 M1003.5,230 V231 M1004.5,229 V231 M1005.5,230 V232 M1006.5,229 V233 M1007.5,230 V232 M1008.5,229 V232 M1009.5,230 V232 M1010.5,229 V232 M1011.5,230 V232 M1012.5,229 V232 M1013.5,230 V232 M1014.5,229 V231 M1015.5,230 V231 M1016.5,229 V232 M1017.5,230 V232 M1018.5,229 V232 M1019.5,230 V231 M1020.5,229 V231 M1021.5,230 V232 M1022.5,229 V232 M1023.5,230 V231 M1024.5,229 V232 M1025.5,230 V233 M1026.5,229 V232 M1027.5,230 V231 M1028.5,229 V232 M1029.5,230 V232 M1030.5,229 V232 M1031.5,230 V232 M1032.5,229 V232 M1033.5,230 V232 M1034.5,229 V231 M1035.5,230 V232 M1036.5,229 V232 M1037.5,230 V232 M1038.5,229 V231 M1039.5,230 V232 M1040.5,229 V232 M1041.5,230 V231 M1042.5,229 V231 M1043.5,230 V231 M1044.5,229 V232 M1045.5,230 V232 M1046.5,229 V232 M1047.5,230 V231 M1048.5,229 V232 M1049.5,230 V231 M1050.5,228 V231 M1051.5,230 V232 M1052.5,229 V231 M1053.5,230 V232 M1054.5,229 V231 M1055.5,230 V232 M1056.5,229 V232 M1057.5,230 V232 M1058.5,229 V231 M1059.5,230 V232 M1060.5,229 V231 M1061.5,230 V231 M1062.5,229 V231 M1063.5,230 V231 M1064.5,229 V232 M1065.5,230 V231 M1066.5,229 V232 M1067.5,230 V232 M1068.5,229 V232 M1069.5,230 V232 M1070.5,229 V232 M1071.5,230 V232 M1072.5,229 V232 M1073.5,230 V232 M1074.5,229 V232 M1075.5,230 V232 M1076.5,229 V231 M1077.5,230 V232 M1078.5,229 V232 M1079.5,230 V233 M1080.5,229 V231 M1081.5,230 V231 M1082.5,229 V232 M1083.5,230 V231 M1084.5,229 V232 M1085.5,230 V232 M1086.5,229 V231 M1087.5,230 V232 M1088.5,229 V233 M1089.5,230 V232 M1090.5,229 V231 M1091.5,230 V231 M1092.5,229 V232 M1093.5,230 V231 M1094.5,229 V232 M1095.5,230 V232 M1096.5,229 V231 M1097.5,230 V232 M1098.5,229 V231 M1099.5,230 V232 M1100.5,229 V231 M1101.5,230 V232 M1102.5,229 V231 M1103.5,230 V231 M1104.5,229 V232 M1105.5,230 V232 M1106.5,228 V232 M1107.5,230 V231 M1108.5,229 V232 M1109.5,230 V232 M1110.5,229 V231 M1111.5,230 V232 M1112.5,229 V231 M1113.5,230 V232 M1114.5,229 V231 M1115.5,230 V233 M1116.5,229 V231 M1117.5,230 V231 M1118.5,229 V232 M1119.5,230 V231 M1120.5,229 V232 M1121.5,230 V232 M1122.5,229 V233 M1123.5,230 V232 M1124.5,229 V231 M1125.5,230 V231 M1126.5,229 V232 M1127.5,230 V231 M1128.5,229 V231 M1129.5,230 V232 M1130.5,229 V232 M1131.5,230 V232 M1132.5,229 V232 M1133.5,230 V232 M1134.5,229 V231 M1135.5,230 V231 M1136.5,229 V232 M1137.5,230 V231 M1138.5,229 V232 M1139.5,230 V232 M1140.5,229 V232 M1141.5,230 V232 M1142.5,229 V231 M1143.5,230 V231 M1144.5,229 V231 M1145.5,230 V232 M1146.5,229 V232 M1147.5,230 V231 M1148.5,229 V232 M1149.5,230 V232"/>
    <polyline class="curve" stroke="#0000ff" points="382.5,76.5 382.5,150.5 383.5,160.5 384.5,168.5 386.5,175.5 388.5,183.5 390.5,193.5 392.5,197.5 394.5,193.5 395.5,197.5 397.5,202.5 401.5,204.5 405.5,211.5 408.5,215.5 409.5,218.5 410.5,216.5 414.5,215.5 418.5,218.5 421.5,218.5 425.5,220.5 429.5,221.5 432.5,220.5 438.5,219.5 440.5,219.5 441.5,219.5 442.5,218.5 443.5,217.5 444.5,217.5 445.5,217.5 446.5,216.5 447.5,217.5 448.5,215.5 449.5,215.5 450.5,214.5 451.5,214.5 452.5,215.5 453.5,215.5 454.5,215.5 455.5,216.5 456.5,216.5 457.5,217.5 458.5,216.5 459.5,215.5 460.5,218.5 461.5,217.5 462.5,217.5 463.5,217.5 464.5,217.5 465.5,216.5 466.5,217.5 467.5,217.5 468.5,217.5 469.5,216.5 470.5,216.5 471.5,217.5 472.5,216.5 473.5,217.5 474.5,218.5 475.5,217.5 476.5,217.5 477.5,217.5 478.5,217.5 479.5,217.5 480.5,217.5 481.5,217.5 482.5,217.5 483.5,217.5 484.5,217.5 485.5,216.5 486.5,216.5 487.5,216.5 488.5,216.5 489.5,216.5 490.5,215.5 491.5,216.5 492.5,216.5 493.5,214.5 494.5,215.5 495.5,215.5 496.5,215.5 497.5,215.5 498.5,215.5 499.5,215.5 500.5,215.5 501.5,216.5 502.5,214.5 503.5,215.5 504.5,213.5 505.5,214.5 506.5,214.5 507.5,215.5"/>
    <path class="curve" stroke="#0000ff" d="M488.5,215 V217 M489.5,215 V216 M490.5,214 V216 M491.5,215 V216 M492.5,214 V216 M493.5,215 V216 M494.5,214 V216 M495.5,215 V216 M496.5,214 V216 M497.5,215 V216 M498.5,214 V216 M499.5,215 V216 M500.5,214 V216 M501.5,214 V215 M502.5,213 V215 M503.5,214 V215 M504.5,213 V215 M505.5,214 V215 M506.5,213 V215 M507.5,214 V215 M508.5,214 V216 M509.5,215 V216 M510.5,214 V216 M511.5,215 V216 M512.5,214 V216 M513.5,215 V216 M514.5,213 V216 M515.5,214 V215 M516.5,213 V216 M517.5,214 V215 M518.5,214 V216 M519.5,214 V215 M520.5,214 V216 M521.5,214 V215 M522.5,214 V216 M523.5,214 V215 M524.5,214 V216 M525.5,214 V215 M526.5,213 V216 M527.5,214 V215 M528.5,213 V216 M529.5,214 V215 M530.5,214 V217 M531.5,214 V215 M532.5,214 V216 M533.5,214 V215 M534.5,214 V216 M535.5,214 V215 M536.5,214 V216 M537.5,214 V215 M538.5,214 V216 M539.5,214 V215 M540.5,214 V216 M541.5,214 V215 M542.5,214 V216 M543.5,214 V215 M544.5,214 V216 M545.5,214 V215 M546.5,214 V216 M547.5,214 V215 M548.5,214 V216 M549.5,214 V215 M550.5,214 V216 M551.5,214 V215 M552.5,214 V216 M553.5,214 V215 M554.5,214 V216 M555.5,215 V216 M556.5,214 V216 M557.5,215 V216 M558.5,214 V216 M559.5,215 V216 M560.5,214 V216 M561.5,215 V216 M562.5,214 V216 M563.5,215 V216 M564.5,214 V216 M565.5,215 V216 M566.5,214 V216 M567.5,215 V216 M568.5,214 V217 M569.5,215 V216 M570.5,214 V216 M571.5,215 V216 M572.5,214 V216 M573.5,214 V215 M574.5,214 V216 M575.5,214 V215 M576.5,214 V216 M577.5,214 V215 M578.5,214 V216 M579.5,214 V215 M580.5,214 V216 M581.5,214 V215 M582.5,214 V216 M583.5,214 V215 M584.5,214 V216 M585.5,214 V215 M586.5,214 V216 M587.5,215 V216 M588.5,214 V216 M589.5,215 V216 M590.5,214 V216 M591.5,215 V216 M592.5,214 V216 M593.5,215 V216 M594.5,214 V216 M595.5,214 V215 M596.5,214 V216 M597.5,214 V215 M598.5,214 V216 M599.5,214 V215 M600.5,214 V216 M601.5,214 V215 M602.5,214 V216 M603.5,214 V215 M604.5,214 V216 M605.5,214 V215 M606.5,214 V216 M607.5,214 V215 M608.5,214 V216 M609.5,214 V215 M610.5,214 V216 M611.5,214 V215 M612.5,214 V216 M613.5,214 V215 M614.5,214 V216 M615.5,214 V215 M616.5,214 V216 M617.5,214 V215 M618.5,214 V216 M619.5,214 V215 M620.5,214 V216 M621.5,214 V215 M622.5,214 V216 M623.5,215 V216 M624.5,214 V216 M625.5,215 V216 M626.5,214 V216 M627.5,215 V216 M628.5,214 V216 M629.5,215 V216 M630.5,214 V216 M631.5,215 V216 M632.5,214 V216 M633.5,215 V216 M634.5,214 V216 M635.5,215 V216 M636.5,214 V216 M637.5,215 V216 M638.5,214 V216 M639.5,215 V216 M640.5,214 V216 M641.5,215 V216 M642.5,214 V216 M643.5,214 V215 M644.5,214 V216 M645.5,214 V215 M646.5,214 V216 M647.5,215 V216 M648.5,214 V216 M649.5,215 V216 M650.5,214 V216 M651.5,215 V216 M652.5,214 V216 M653.5,215 V216 M654.5,214 V216 M655.5,215 V216 M656.5,214 V216 M657.5,215 V216 M658.5,214 V216 M659.5,215 V216 M660.5,214 V216 M661.5,214 V215 M662.5,214 V216 M663.5,214 V215 M664.5,214 V216 M665.5,214 V215 M666.5,214 V216 M667.5,214 V215 M668.5,214 V216 M669.5,214 V215 M670.5,214 V216 M671.5,214 V215 M672.5,214 V216 M673.5,215 V216 M674.5,214 V216 M675.5,215 V216 M676.5,214 V216 M677.5,215 V216 M678.5,214 V216 M679.5,215 V216 M680.5,214 V216 M681.5,215 V216 M682.5,214 V216 M683.5,215 V216 M684.5,214 V216 M685.5,214 V215 M686.5,214 V216 M687.5,214 V215 M688.5,214 V216 M689.5,214 V215 M690.5,214 V216 M691.5,214 V215 M692.5,214 V216 M693.5,214 V215 M694.5,214 V216 M695.5,214 V215 M696.5,214 V216 M697.5,214 V215 M698.5,214 V216 M699.5,214 V215 M700.5,214 V216 M701.5,214 V215 M702.5,214 V216 M703.5,214 V215 M704.5,214 V216 M705.5,214 V215 M706.5,214 V216 M707.5,214 V217 M708.5,214 V216 M709.5,214 V215 M710.5,214 V216 M711.5,214 V215 M712.5,214 V216 M713.5,214 V215 M714.5,214 V216 M715.5,214 V215 M716.5,214 V216 M717.5,214 V215 M718.5,214 V216 M719.5,214 V215 M720.5,214 V216 M721.5,214 V215 M722.5,214 V216 M723.5,214 V215 M724.5,214 V216 M725.5,214 V215 M726.5,214 V216 M727.5,214 V215 M728.5,214 V216 M729.5,214 V215 M730.5,214 V216 M731.5,214 V217 M732.5,214 V216 M733.5,214 V215 M734.5,214 V216 M735.5,214 V215 M736.5,214 V216 M737.5,214 V215 M738.5,214 V216 M739.5,214 V215 M740.5,214 V216 M741.5,215 V216 M742.5,214 V216 M743.5,215 V216 M744.5,214 V216 M745.5,215 V216 M746.5,214 V216 M747.5,215 V216 M748.5,214 V217 M749.5,215 V216 M750.5,214 V216 M751.5,215 V216 M752.5,214 V216 M753.5,215 V216 M754.5,214 V216 M755.5,215 V216 M756.5,214 V216 M757.5,215 V216 M758.5,214 V216 M759.5,215 V216 M760.5,214 V216 M761.5,215 V216 M762.5,214 V216 M763.5,215 V216 M764.5,214 V216 M765.5,215 V216 M766.5,214 V216 M767.5,215 V216 M768.5,214 V216 M769.5,214 V217 M770.5,214 V216 M771.5,214 V215 M772.5,214 V217 M773.5,215 V216 M774.5,214 V216 M775.5,215 V216 M776.5,214 V216 M777.5,215 V216 M778.5,214 V216 M779.5,215 V217 M780.5,214 V216 M781.5,215 V216 M782.5,214 V216 M783.5,215 V216 M784.5,214 V216 M785.5,215 V216 M786.5,214 V216 M787.5,215 V216 M788.5,214 V216 M789.5,215 V217 M790.5,214 V216 M791.5,215 V216 M792.5,214 V216 M793.5,215 V216 M794.5,214 V216 M795.5,214 V215 M796.5,214 V216 M797.5,214 V215 M798.5,214 V216 M799.5,214 V215 M800.5,214 V216 M801.5,214 V215 M802.5,214 V216 M803.5,215 V216 M804.5,214 V217 M805.5,215 V216 M806.5,214 V216 M807.5,215 V216 M808.5,214 V216 M809.5,215 V216 M810.5,214 V216 M811.5,215 V216 M812.5,214 V216 M813.5,214 V215 M814.5,214 V216 M815.5,214 V215 M816.5,214 V216 M817.5,214 V215 M818.5,214 V216 M819.5,214 V215 M820.5,214 V216 M821.5,214 V215 M822.5,214 V216 M823.5,214 V215 M824.5,214 V216 M825.5,214 V215 M826.5,214 V216 M827.5,214 V215 M828.5,214 V216 M829.5,214 V215 M830.5,214 V216 M831.5,215 V216 M832.5,214 V217 M833.5,215 V216 M834.5,214 V216 M835.5,215 V216 M836.5,214 V216 M837.5,215 V216 M838.5,214 V216 M839.5,215 V216 M840.5,214 V216 M841.5,215 V216 M842.5,214 V216 M843.5,215 V216 M844.5,214 V216 M845.5,215 V216 M846.5,214 V216 M847.5,214 V215 M848.5,214 V216 M849.5,214 V215 M850.5,214 V216 M851.5,214 V215 M852.5,214 V216 M853.5,214 V215 M854.5,214 V216 M855.5,214 V215 M856.5,214 V216 M857.5,214 V215 M858.5,214 V216 M859.5,214 V215 M860.5,214 V216 M861.5,214 V215 M862.5,214 V216 M863.5,214 V215 M864.5,214 V216 M865.5,214 V215 M866.5,214 V216 M867.5,214 V215 M868.5,214 V216 M869.5,214 V215 M870.5,214 V216 M871.5,214 V215 M872.5,214 V216 M873.5,214 V215 M874.5,214 V216 M875.5,214 V215 M876.5,214 V216 M877.5,214 V215 M878.5,214 V216 M879.5,214 V215 M880.5,214 V216 M881.5,214 V215 M882.5,214 V216 M883.5,214 V215 M884.5,214 V216 M885.5,214 V215 M886.5,214 V216 M887.5,214 V215 M888.5,214 V217 M889.5,214 V215 M890.5,214 V216 M891.5,214 V215 M892.5,214 V216 M893.5,214 V215 M894.5,214 V216 M895.5,214 V215 M896.5,214 V216 M897.5,214 V215 M898.5,214 V217 M899.5,214 V215 M900.5,214 V216 M901.5,214 V215 M902.5,214 V216 M903.5,214 V215 M904.5,214 V216 M905.5,214 V215 M906.5,214 V216 M907.5,214 V215 M908.5,214 V216 M909.5,214 V215 M910.5,214 V216 M911.5,214 V215 M912.5,214 V216 M913.5,214 V215 M914.5,214 V216 M915.5,214 V215 M916.5,214 V216 M917.5,215 V216 M918.5,214 V216 M919.5,215 V216 M920.5,214 V216 M921.5,215 V216 M922.5,214 V216 M923.5,215 V216 M924.5,214 V216 M925.5,215 V216 M926.5,214 V216 M927.5,215 V216 M928.5,214 V216 M929.5,215 V216 M930.5,214 V216 M931.5,215 V216 M932.5,214 V216 M933.5,215 V216 M934.5,214 V216 M935.5,215 V216 M936.5,214 V216 M937.5,215 V216 M938.5,214 V216 M939.5,215 V216 M940.5,214 V216 M941.5,215 V216 M942.5,214 V217 M943.5,215 V216 M944.5,214 V216 M945.5,214 V215 M946.5,214 V216 M947.5,214 V215 M948.5,214 V216 M949.5,214 V215 M950.5,214 V216 M951.5,214 V215 M952.5,214 V216 M953.5,214 V215 M954.5,214 V216 M955.5,214 V215 M956.5,214 V216 M957.5,214 V215 M958.5,214 V216 M959.5,214 V215 M960.5,214 V216 M961.5,214 V215 M962.5,214 V216 M963.5,214 V215 M964.5,214 V216 M965.5,214 V215 M966.5,214 V216 M967.5,214 V215 M968.5,214 V216 M969.5,214 V215 M970.5,214 V216 M971.5,214 V215 M972.5,214 V216 M973.5,214 V215 M974.5,214 V216 M975.5,214 V215 M976.5,214 V216 M977.5,214 V215 M978.5,214 V216 M979.5,214 V215 M980.5,214 V216 M981.5,214 V215 M982.5,214 V216 M983.5,214 V215 M984.5,214 V216 M985.5,214 V215 M986.5,214 V216 M987.5,214 V215 M988.5,214 V216 M989.5,214 V215 M990.5,214 V216 M991.5,214 V215 M992.5,214 V216 M993.5,215 V216 M994.5,214 V216 M995.5,215 V216 M996.5,214 V216 M997.5,215 V216 M998.5,214 V216 M999.5,215 V216 M1000.5,214 V217 M1001.5,215 V216 M1002.5,214 V216 M1003.5,215 V216 M1004.5,214 V216 M1005.5,215 V216 M1006.5,214 V216 M1007.5,215 V216 M1008.5,214 V216 M1009.5,215 V217 M1010.5,214 V216 M1011.5,215 V216 M1012.5,214 V216 M1013.5,215 V216 M1014.5,214 V216 M1015.5,215 V216 M1016.5,214 V216 M1017.5,215 V216 M1018.5,214 V216 M1019.5,215 V216 M1020.5,214 V216 M1021.5,215 V216 M1022.5,214 V216 M1023.5,215 V216 M1024.5,214 V216 M1025.5,215 V216 M1026.5,214 V216 M1027.5,215 V216 M1028.5,214 V216 M1029.5,215 V216 M1030.5,214 V216 M1031.5,215 V216 M1032.5,214 V216 M1033.5,215 V216 M1034.5,214 V216 M1035.5,215 V216 M1036.5,214 V216 M1037.5,215 V216 M1038.5,214 V216 M1039.5,215 V216 M1040.5,214 V216 M1041.5,215 V216 M1042.5,214 V216 M1043.5,215 V216 M1044.5,214 V216 M1045.5,215 V216 M1046.5,214 V216 M1047.5,215 V216 M1048.5,214 V216 M1049.5,215 V216 M1050.5,214 V216 M1051.5,215 V216 M1052.5,214 V216 M1053.5,215 V216 M1054.5,214 V216 M1055.5,215 V216 M1056.5,214 V216 M1057.5,215 V216 M1058.5,214 V216 M1059.5,215 V216 M1060.5,214 V216 M1061.5,215 V216 M1062.5,214 V216 M1063.5,215 V216 M1064.5,214 V216 M1065.5,214 V215 M1066.5,214 V216 M1067.5,214 V215 M1068.5,214 V216 M1069.5,214 V215 M1070.5,214 V216 M1071.5,214 V217 M1072.5,214 V216 M1073.5,215 V216 M1074.5,214 V216 M1075.5,214 V217 M1076.5,214 V216 M1077.5,214 V215 M1078.5,214 V216 M1079.5,214 V215 M1080.5,214 V216 M1081.5,214 V215 M1082.5,214 V217 M1083.5,214 V215 M1084.5,214 V216 M1085.5,214 V215 M1086.5,214 V217 M1087.5,214 V215 M1088.5,214 V216 M1089.5,214 V215 M1090.5,214 V216 M1091.5,214 V215 M1092.5,214 V216 M1093.5,214 V215 M1094.5,214 V216 M1095.5,214 V215 M1096.5,214 V216 M1097.5,214 V215 M1098.5,214 V216 M1099.5,214 V215 M1100.5,214 V216 M1101.5,214 V215 M1102.5,214 V216 M1103.5,214 V215 M1104.5,214 V216 M1105.5,214 V215 M1106.5,214 V216 M1107.5,214 V215 M1108.5,214 V216 M1109.5,214 V215 M1110.5,214 V216 M1111.5,214 V215 M1112.5,214 V216 M1113.5,214 V215 M1114.5,214 V216 M1115.5,214 V217 M1116.5,214 V217 M1117.5,214 V215 M1118.5,214 V216 M1119.5,214 V215 M1120.5,214 V216 M1121.5,214 V215 M1122.5,214 V217 M1123.5,214 V215 M1124.5,214 V216 M1125.5,214 V215 M1126.5,214 V216 M1127.5,214 V215 M1128.5,214 V216 M1129.5,214 V215 M1130.5,214 V216 M1131.5,214 V217 M1132.5,214 V216 M1133.5,214 V215 M1134.5,214 V216 M1135.5,214 V215 M1136.5,214 V216 M1137.5,214 V215 M1138.5,214 V216 M1139.5,214 V215 M1140.5,214 V216 M1141.5,214 V215 M1142.5,214 V216 M1143.5,214 V215 M1144.5,214 V216 M1145.5,214 V215 M1146.5,214 V216 M1147.5,214 V215 M1148.5,214 V216 M1149.5,214 V215"/>
    <polyline class="curve" stroke="#00ffff" points="382.5,500.5 383.5,324.5 384.5,324.5 384.5,351.5 385.5,351.5 385.5,362.5 386.5,351.5 386.5,355.5 387.5,350.5 387.5,355.5 388.5,351.5 388.5,356.5 389.5,358.5 390.5,360.5 391.5,366.5 392.5,361.5 393.5,357.5 394.5,361.5 395.5,365.5 397.5,363.5 400.5,361.5 402.5,363.5 408.5,360.5 412.5,356.5 414.5,361.5 416.5,370.5 421.5,374.5 429.5,385.5 432.5,385.5 435.5,383.5 443.5,386.5 449.5,387.5 450.5,377.5 451.5,392.5 452.5,406.5 454.5,411.5 460.5,418.5 464.5,420.5 473.5,421.5 482.5,421.5 490.5,419.5 498.5,419.5 510.5,420.5 520.5,420.5 521.5,420.5 522.5,420.5 523.5,420.5 524.5,420.5 525.5,420.5 526.5,420.5 527.5,420.5 528.5,420.5 529.5,420.5 530.5,420.5 531.5,420.5 532.5,420.5 533.5,420.5 534.5,420.5 535.5,420.5 536.5,420.5 537.5,420.5 538.5,420.5 539.5,420.5 540.5,419.5 541.5,420.5 542.5,420.5 543.5,420.5 544.5,420.5 545.5,420.5 546.5,419.5 547.5,420.5 548.5,420.5 549.5,420.5 550.5,420.5 551.5,420.5 552.5,420.5 553.5,420.5 554.5,419.5 555.5,420.5 556.5,420.5 557.5,420.5 558.5,420.5 559.5,420.5 560.5,419.5 561.5,420.5 562.5,420.5 563.5,420.5 564.5,420.5 565.5,420.5 566.5,420.5 567.5,420.5 568.5,420.5 569.5,420.5 570.5,420.5 571.5,420.5 572.5,420.5 573.5,420.5 574.5,420.5 575.5,420.5 576.5,420.5 577.5,420.5 578.5,420.5 579.5,420.5 580.5,420.5 581.5,420.5 582.5,420.5 583.5,420.5 584.5,420.5 585.5,419.5 586.5,420.5 587.5,420.5 588.5,420.5 589.5,420.5 590.5,420.5 591.5,420.5 592.5,420.5 593.5,420.5 594.5,420.5 595.5,420.5 596.5,420.5 597.5,420.5 598.5,420.5 599.5,419.5 600.5,420.5 601.5,420.5 602.5,420.5 603.5,420.5 604.5,420.5 605.5,420.5 606.5,420.5 607.5,420.5 608.5,420.5 609.5,420.5 610.5,420.5 611.5,420.5 612.5,419.5 613.5,420.5 614.5,420.5 615.5,420.5 616.5,420.5 617.5,420.5 618.5,420.5 619.5,420.5 620.5,420.5 621.5,419.5 622.5,420.5 623.5,420.5 624.5,419.5 625.5,420.5 626.5,420.5 627.5,420.5 628.5,420.5 629.5,419.5 630.5,420.5 631.5,420.5 632.5,420.5 633.5,420.5 634.5,420.5 635.5,420.5 636.5,420.5 637.5,420.5 638.5,420.5 639.5,420.5 640.5,420.5 641.5,420.5 642.5,420.5 643.5,420.5 644.5,420.5 645.5,420.5 646.5,420.5 647.5,420.5 648.5,420.5 649.5,420.5 650.5,420.5 651.5,420.5 652.5,420.5 653.5,420.5 654.5,420.5 655.5,420.5 656.5,420.5 657.5,420.5 658.5,420.5 659.5,419.5 660.5,420.5 661.5,420.5 662.5,420.5 663.5,419.5 664.5,419.5 665.5,420.5 666.5,420.5 667.5,420.5 668.5,420.5 669.5,420.5 670.5,420.5 671.5,420.5 672.5,420.5 673.5,420.5 674.5,420.5 675.5,420.5 676.5,420.5 677.5,420.5 678.5,420.5 679.5,420.5 680.5,420.5 681.5,420.5 682.5,420.5 683.5,420.5 684.5,420.5 685.5,420.5 686.5,420.5 687.5,420.5 688.5,420.5 689.5,420.5 690.5,420.5 691.5,420.5 692.5,420.5 693.5,420.5 694.5,420.5 695.5,420.5 696.5,419.5 697.5,420.5 698.5,420.5 699.5,419.5 700.5,420.5 701.5,420.5 702.5,420.5 703.5,420.5 704.5,420.5 705.5,420.5 706.5,420.5 707.5,420.5 708.5,420.5 709.5,420.5 710.5,420.5 711.5,419.5 712.5,420.5 713.5,420.5 714.5,420.5 715.5,420.5 716.5,419.5 717.5,420.5 718.5,420.5 719.5,419.5 720.5,419.5 721.5,420.5 722.5,420.5 723.5,420.5 724.5,420.5 725.5,420.5 726.5,420.5 727.5,420.5 728.5,420.5 729.5,420.5 730.5,420.5 731.5,420.5 732.5,420.5 733.5,420.5 734.5,420.5 735.5,420.5 736.5,420.5 737.5,420.5 738.5,420.5 739.5,420.5 740.5,420.5 741.5,419.5 742.5,419.5 743.5,419.5 744.5,420.5 745.5,420.5 746.5,420.5 747.5,420.5 748.5,420.5 749.5,420.5 750.5,420.5 751.5,420.5 752.5,420.5 753.5,420.5 754.5,420.5 755.5,420.5 756.5,420.5 757.5,420.5 758.5,420.5 759.5,420.5 760.5,420.5 761.5,420.5 762.5,420.5 763.5,420.5 764.5,420.5 765.5,420.5 766.5,420.5 767.5,420.5 768.5,420.5 769.5,420.5 770.5,420.5 771.5,420.5 772.5,420.5 773.5,420.5 774.5,420.5 775.5,420.5 776.5,420.5 777.5,420.5 778.5,419.5 779.5,420.5 780.5,420.5 781.5,420.5 782.5,420.5 783.5,420.5 784.5,420.5 785.5,420.5 786.5,420.5 787.5,420.5 788.5,420.5 789.5,420.5 790.5,420.5 791.5,420.5 792.5,420.5 793.5,420.5 794.5,420.5 795.5,420.5 796.5,419.5 797.5,420.5 798.5,420.5 799.5,419.5 800.5,419.5 801.5,420.5 802.5,420.5 803.5,420.5 804.5,420.5 805.5,420.5 806.5,419.5 807.5,420.5 808.5,420.5 809.5,420.5 810.5,420.5 811.5,420.5 812.5,420.5 813.5,420.5 814.5,420.5 815.5,419.5 816.5,420.5 817.5,420.5 818.5,420.5 819.5,420.5 820.5,420.5 821.5,419.5 822.5,420.5 823.5,420.5 824.5,420.5 825.5,420.5 826.5,420.5 827.5,420.5 828.5,420.5 829.5,420.5 830.5,420.5 831.5,420.5 832.5,420.5 833.5,420.5 834.5,420.5 835.5,420.5 836.5,420.5 837.5,420.5 838.5,420.5 839.5,420.5 840.5,420.5 841.5,420.5 842.5,420.5 843.5,420.5 844.5,420.5 845.5,420.5 846.5,420.5 847.5,420.5 848.5,420.5 849.5,420.5 850.5,420.5 851.5,420.5 852.5,420.5 853.5,420.5 854.5,419.5 855.5,420.5 856.5,420.5 857.5,420.5 858.5,420.5 859.5,419.5 860.5,419.5 861.5,419.5 862.5,420.5 863.5,420.5 864.5,420.5 865.5,420.5 866.5,419.5 867.5,420.5 868.5,420.5 869.5,420.5 870.5,420.5 871.5,420.5 872.5,419.5 873.5,420.5 874.5,420.5 875.5,420.5 876.5,420.5 877.5,420.5 878.5,420.5 879.5,420.5 880.5,420.5 881.5,420.5 882.5,420.5 883.5,419.5 884.5,420.5 885.5,420.5 886.5,420.5 887.5,420.5 888.5,420.5 889.5,420.5 890.5,420.5 891.5,420.5 892.5,420.5 893.5,420.5 894.5,420.5 895.5,420.5 896.5,420.5 897.5,420.5 898.5,420.5 899.5,420.5 900.5,420.5 901.5,420.5 902.5,420.5 903.5,420.5 904.5,420.5 905.5,420.5 906.5,420.5 907.5,420.5 908.5,420.5 909.5,420.5 910.5,420.5 911.5,420.5 912.5,420.5 913.5,420.5 914.5,420.5 915.5,420.5 916.5,420.5 917.5,420.5 918.5,420.5 919.5,420.5 920.5,420.5 921.5,420.5 922.5,420.5 923.5,420.5 924.5,420.5 925.5,419.5 926.5,420.5 927.5,420.5 928.5,420.5 929.5,420.5 930.5,420.5 931.5,420.5 932.5,420.5 933.5,420.5 934.5,420.5 935.5,420.5 936.5,420.5 937.5,420.5 938.5,420.5 939.5,419.5 940.5,420.5 941.5,420.5 942.5,420.5 943.5,420.5 944.5,420.5 945.5,420.5 946.5,420.5 947.5,420.5 948.5,420.5 949.5,420.5 950.5,419.5 951.5,420.5 952.5,419.5 953.5,419.5 954.5,420.5 955.5,420.5 956.5,419.5 957.5,419.5 958.5,420.5 959.5,420.5 960.5,420.5 961.5,420.5 962.5,420.5 963.5,419.5 964.5,419.5 965.5,420.5 966.5,420.5 967.5,420.5 968.5,420.5 969.5,420.5 970.5,420.5 971.5,420.5 972.5,420.5 973.5,420.5 974.5,420.5 975.5,420.5 976.5,420.5 977.5,420.5 978.5,420.5 979.5,420.5 980.5,420.5 981.5,420.5 982.5,420.5 983.5,420.5 984.5,420.5 985.5,420.5 986.5,420.5 987.5,420.5 988.5,420.5 989.5,420.5 990.5,420.5 991.5,420.5 992.5,420.5 993.5,420.5 994.5,420.5 995.5,420.5 996.5,420.5 997.5,420.5 998.5,420.5 999.5,420.5 1000.5,420.5 1001.5,420.5 1002.5,420.5 1003.5,420.5 1004.5,420.5 1005.5,420.5 1006.5,420.5 1007.5,420.5 1008.5,419.5 1009.5,420.5 1010.5,419.5 1011.5,420.5 1012.5,420.5 1013.5,420.5 1014.5,420.5 1015.5,420.5 1016.5,420.5 1017.5,420.5 1018.5,420.5 1019.5,420.5 1020.5,420.5 1021.5,420.5 1022.5,419.5 1023.5,420.5 1024.5,420.5 1025.5,420.5 1026.5,419.5 1027.5,420.5 1028.5,420.5 1029.5,420.5 1030.5,420.5 1031.5,420.5 1032.5,419.5 1033.5,420.5 1034.5,419.5 1035.5,420.5 1036.5,420.5 1037.5,420.5 1038.5,420.5 1039.5,420.5 1040.5,420.5 1041.5,420.5 1042.5,420.5 1043.5,420.5 1044.5,420.5 1045.5,420.5 1046.5,420.5 1047.5,420.5 1048.5,420.5 1049.5,420.5 1050.5,420.5 1051.5,420.5 1052.5,420.5 1053.5,420.5 1054.5,420.5 1055.5,420.5 1056.5,420.5 1057.5,420.5 1058.5,420.5 1059.5,420.5 1060.5,420.5 1061.5,420.5 1062.5,420.5 1063.5,420.5 1064.5,420.5 1065.5,420.5 1066.5,420.5 1067.5,420.5 1068.5,420.5 1069.5,420.5 1070.5,420.5 1071.5,420.5 1072.5,420.5 1073.5,420.5 1074.5,419.5 1075.5,420.5 1076.5,420.5 1077.5,420.5 1078.5,420.5 1079.5,420.5 1080.5,420.5 1081.5,420.5 1082.5,420.5 1083.5,420.5 1084.5,420.5 1085.5,420.5 1086.5,420.5 1087.5,420.5 1088.5,420.5 1089.5,420.5 1090.5,420.5 1091.5,420.5 1092.5,420.5 1093.5,420.5 1094.5,420.5 1095.5,420.5 1096.5,420.5 1097.5,420.5 1098.5,420.5 1099.5,420.5 1100.5,419.5 1101.5,420.5 1102.5,420.5 1103.5,420.5 1104.5,420.5 1105.5,420.5 1106.5,420.5 1107.5,420.5 1108.5,420.5 1109.5,420.5 1110.5,420.5 1111.5,420.5 1112.5,420.5 1113.5,419.5 1114.5,420.5 1115.5,420.5 1116.5,420.5 1117.5,420.5 1118.5,420.5 1119.5,420.5 1120.5,420.5 1121.5,419.5 1122.5,420.5 1123.5,420.5 1124.5,420.5 1125.5,420.5 1126.5,420.5 1127.5,420.5 1128.5,419.5 1129.5,420.5 1130.5,419.5 1131.5,420.5 1132.5,420.5 1133.5,420.5 1134.5,420.5 1135.5,420.5 1136.5,419.5 1137.5,420.5 1138.5,420.5 1139.5,420.5 1140.5,420.5 1141.5,420.5 1142.5,420.5 1143.5,420.5 1144.5,419.5 1145.5,420.5 1146.5,420.5 1147.5,419.5 1148.5,420.5 1149.5,419.5"/>
    <polyline class="curve" stroke="#ff0099" points="382.5,150.5 382.5,160.5 383.5,166.5 384.5,172.5 385.5,177.5 386.5,174.5 387.5,171.5 388.5,170.5 390.5,172.5 392.5,178.5 395.5,184.5 398.5,190.5 403.5,199.5 408.5,208.5 412.5,208.5 416.5,211.5 421.5,214.5 424.5,217.5 429.5,218.5 438.5,218.5 444.5,219.5 457.5,219.5 462.5,221.5 467.5,221.5 472.5,222.5 480.5,222.5 488.5,221.5 500.5,221.5 510.5,220.5 511.5,220.5 512.5,220.5 513.5,220.5 514.5,220.5 515.5,220.5 516.5,220.5 517.5,220.5 518.5,220.5 519.5,220.5 520.5,220.5 521.5,220.5 522.5,220.5 523.5,220.5 524.5,220.5 525.5,220.5 526.5,220.5 527.5,220.5 528.5,220.5 529.5,220.5 530.5,220.5 531.5,220.5 532.5,220.5 533.5,220.5 534.5,220.5 535.5,220.5 536.5,220.5 537.5,220.5 538.5,220.5 539.5,220.5 540.5,220.5 541.5,220.5 542.5,221.5 543.5,221.5 544.5,221.5 545.5,221.5 546.5,221.5 547.5,221.5 548.5,221.5 549.5,221.5 550.5,221.5 551.5,221.5 552.5,221.5 553.5,221.5 554.5,221.5 555.5,221.5 556.5,220.5 557.5,220.5 558.5,220.5 559.5,220.5 560.5,220.5 561.5,220.5 562.5,220.5 563.5,220.5 564.5,220.5 565.5,220.5 566.5,220.5 567.5,220.5 568.5,220.5 569.5,220.5 570.5,220.5 571.5,220.5 572.5,220.5 573.5,220.5 574.5,220.5 575.5,220.5 576.5,221.5 577.5,221.5 578.5,221.5 579.5,220.5 580.5,221.5 581.5,221.5 582.5,221.5 583.5,221.5 584.5,221.5 585.5,221.5 586.5,221.5 587.5,220.5 588.5,220.5 589.5,220.5 590.5,220.5 591.5,221.5 592.5,221.5 593.5,221.5 594.5,221.5 595.5,220.5 596.5,220.5 597.5,220.5 598.5,220.5 599.5,220.5 600.5,220.5 601.5,221.5 602.5,221.5 603.5,221.5 604.5,221.5 605.5,221.5 606.5,221.5 607.5,221.5 608.5,221.5 609.5,220.5 610.5,221.5 611.5,220.5 612.5,221.5 613.5,220.5 614.5,220.5 615.5,220.5 616.5,220.5 617.5,220.5 618.5,220.5 619.5,220.5 620.5,220.5 621.5,220.5 622.5,220.5 623.5,220.5 624.5,220.5 625.5,220.5 626.5,220.5 627.5,220.5 628.5,220.5 629.5,220.5 630.5,220.5 631.5,220.5 632.5,220.5 633.5,220.5 634.5,220.5 635.5,220.5 636.5,220.5 637.5,220.5 638.5,220.5 639.5,220.5 640.5,220.5 641.5,220.5 642.5,220.5 643.5,220.5 644.5,220.5 645.5,220.5 646.5,220.5 647.5,221.5 648.5,221.5 649.5,221.5 650.5,221.5 651.5,221.5 652.5,221.5 653.5,221.5 654.5,221.5 655.5,221.5 656.5,220.5 657.5,220.5 658.5,220.5 659.5,220.5 660.5,220.5 661.5,220.5 662.5,220.5 663.5,220.5 664.5,220.5 665.5,220.5 666.5,220.5 667.5,220.5 668.5,220.5 669.5,220.5 670.5,220.5 671.5,220.5 672.5,220.5 673.5,220.5 674.5,220.5 675.5,221.5 676.5,220.5 677.5,220.5 678.5,220.5 679.5,220.5 680.5,220.5 681.5,220.5 682.5,220.5 683.5,220.5 684.5,220.5 685.5,221.5 686.5,220.5 687.5,220.5 688.5,220.5 689.5,220.5 690.5,220.5 691.5,221.5 692.5,220.5 693.5,220.5 694.5,221.5 695.5,220.5 696.5,221.5 697.5,221.5 698.5,221.5 699.5,220.5 700.5,220.5 701.5,220.5 702.5,220.5 703.5,220.5 704.5,220.5 705.5,220.5 706.5,220.5 707.5,220.5 708.5,220.5 709.5,221.5 710.5,221.5 711.5,221.5 712.5,221.5 713.5,220.5 714.5,220.5 715.5,220.5 716.5,220.5 717.5,220.5 718.5,220.5 719.5,220.5 720.5,220.5 721.5,220.5 722.5,220.5 723.5,220.5 724.5,220.5 725.5,221.5 726.5,221.5 727.5,221.5 728.5,221.5 729.5,221.5 730.5,221.5 731.5,221.5 732.5,221.5 733.5,221.5 734.5,220.5 735.5,220.5 736.5,220.5 737.5,220.5 738.5,221.5 739.5,221.5 740.5,221.5 741.5,221.5 742.5,221.5 743.5,221.5 744.5,221.5 745.5,221.5 746.5,221.5 747.5,221.5 748.5,220.5 749.5,220.5 750.5,220.5 751.5,220.5 752.5,220.5 753.5,220.5 754.5,220.5 755.5,220.5 756.5,220.5 757.5,220.5 758.5,220.5 759.5,220.5 760.5,220.5 761.5,220.5 762.5,220.5 763.5,220.5 764.5,220.5 765.5,220.5 766.5,220.5 767.5,220.5 768.5,220.5 769.5,220.5 770.5,220.5 771.5,220.5 772.5,220.5 773.5,220.5 774.5,220.5 775.5,220.5 776.5,220.5 777.5,220.5 778.5,220.5 779.5,220.5 780.5,220.5 781.5,220.5 782.5,220.5 783.5,220.5 784.5,220.5 785.5,220.5 786.5,220.5 787.5,220.5 788.5,221.5 789.5,221.5 790.5,221.5 791.5,221.5 792.5,221.5 793.5,221.5 794.5,221.5 795.5,221.5 796.5,221.5 797.5,221.5 798.5,220.5 799.5,220.5 800.5,220.5 801.5,220.5 802.5,220.5 803.5,220.5 804.5,220.5 805.5,220.5 806.5,220.5 807.5,220.5 808.5,220.5 809.5,220.5 810.5,220.5 811.5,220.5 812.5,220.5 813.5,220.5 814.5,220.5 815.5,220.5 816.5,220.5 817.5,220.5 818.5,220.5 819.5,220.5 820.5,220.5 821.5,220.5 822.5,220.5 823.5,220.5 824.5,220.5 825.5,220.5 826.5,220.5 827.5,220.5 828.5,220.5 829.5,220.5 830.5,221.5 831.5,221.5 832.5,221.5 833.5,220.5 834.5,220.5 835.5,220.5 836.5,221.5 837.5,221.5 838.5,221.5 839.5,220.5 840.5,220.5 841.5,220.5 842.5,220.5 843.5,220.5 844.5,220.5 845.5,220.5 846.5,220.5 847.5,220.5 848.5,220.5 849.5,220.5 850.5,220.5 851.5,220.5 852.5,220.5 853.5,220.5 854.5,220.5 855.5,220.5 856.5,220.5 857.5,220.5 858.5,220.5 859.5,220.5 860.5,220.5 861.5,220.5 862.5,220.5 863.5,220.5 864.5,221.5 865.5,221.5 866.5,221.5 867.5,221.5 868.5,221.5 869.5,221.5 870.5,221.5 871.5,220.5 872.5,220.5 873.5,220.5 874.5,220.5 875.5,220.5 876.5,220.5 877.5,220.5 878.5,220.5 879.5,220.5 880.5,220.5 881.5,220.5 882.5,220.5 883.5,220.5 884.5,220.5 885.5,221.5 886.5,221.5 887.5,221.5 888.5,221.5 889.5,221.5 890.5,221.5 891.5,221.5 892.5,220.5 893.5,220.5 894.5,220.5 895.5,220.5 896.5,220.5 897.5,220.5 898.5,220.5 899.5,220.5 900.5,220.5 901.5,220.5 902.5,220.5 903.5,220.5 904.5,220.5 905.5,220.5 906.5,220.5 907.5,220.5 908.5,220.5 909.5,220.5 910.5,220.5 911.5,220.5 912.5,220.5 913.5,220.5 914.5,220.5 915.5,220.5 916.5,220.5 917.5,220.5 918.5,220.5 919.5,220.5 920.5,220.5 921.5,220.5 922.5,220.5 923.5,220.5 924.5,220.5 925.5,220.5 926.5,220.5 927.5,220.5 928.5,220.5 929.5,220.5 930.5,220.5 931.5,220.5 932.5,220.5 933.5,220.5 934.5,220.5 935.5,220.5 936.5,220.5 937.5,220.5 938.5,220.5 939.5,220.5 940.5,220.5 941.5,220.5 942.5,220.5 943.5,220.5 944.5,220.5 945.5,220.5 946.5,220.5 947.5,220.5 948.5,220.5 949.5,220.5 950.5,220.5 951.5,220.5 952.5,220.5 953.5,220.5 954.5,220.5 955.5,220.5 956.5,220.5 957.5,220.5 958.5,220.5 959.5,220.5 960.5,220.5 961.5,220.5 962.5,220.5 963.5,220.5 964.5,220.5 965.5,220.5 966.5,220.5 967.5,220.5 968.5,220.5 969.5,220.5 970.5,220.5 971.5,220.5 972.5,220.5 973.5,220.5 974.5,220.5 975.5,220.5 976.5,220.5 977.5,220.5 978.5,220.5 979.5,220.5 980.5,220.5 981.5,220.5 982.5,220.5 983.5,220.5 984.5,220.5 985.5,220.5 986.5,220.5 987.5,220.5 988.5,220.5 989.5,220.5 990.5,220.5 991.5,220.5 992.5,220.5 993.5,220.5 994.5,220.5 995.5,220.5 996.5,220.5 997.5,220.5 998.5,220.5 999.5,220.5 1000.5,220.5 1001.5,220.5 1002.5,220.5 1003.5,220.5 1004.5,220.5 1005.5,220.5 1006.5,220.5 1007.5,220.5 1008.5,220.5 1009.5,221.5 1010.5,220.5 1011.5,220.5 1012.5,220.5 1013.5,220.5 1014.5,220.5 1015.5,220.5 1016.5,220.5 1017.5,220.5 1018.5,220.5 1019.5,220.5 1020.5,220.5 1021.5,220.5 1022.5,220.5 1023.5,220.5 1024.5,220.5 1025.5,220.5 1026.5,220.5 1027.5,220.5 1028.5,220.5 1029.5,220.5 1030.5,221.5 1031.5,221.5 1032.5,221.5 1033.5,221.5 1034.5,221.5 1035.5,221.5 1036.5,221.5 1037.5,221.5 1038.5,220.5 1039.5,220.5 1040.5,220.5 1041.5,220.5 1042.5,220.5 1043.5,220.5 1044.5,220.5 1045.5,220.5 1046.5,220.5 1047.5,220.5 1048.5,220.5 1049.5,220.5 1050.5,220.5 1051.5,220.5 1052.5,220.5 1053.5,221.5 1054.5,221.5 1055.5,221.5 1056.5,221.5 1057.5,220.5 1058.5,220.5 1059.5,220.5 1060.5,220.5 1061.5,220.5 1062.5,220.5 1063.5,220.5 1064.5,220.5 1065.5,220.5 1066.5,221.5 1067.5,221.5 1068.5,221.5 1069.5,220.5 1070.5,220.5 1071.5,220.5 1072.5,220.5 1073.5,220.5 1074.5,220.5 1075.5,221.5 1076.5,221.5 1077.5,220.5 1078.5,220.5 1079.5,220.5 1080.5,220.5 1081.5,220.5 1082.5,221.5 1083.5,220.5 1084.5,220.5 1085.5,220.5 1086.5,220.5 1087.5,220.5 1088.5,220.5 1089.5,220.5 1090.5,220.5 1091.5,220.5 1092.5,220.5 1093.5,220.5 1094.5,220.5 1095.5,220.5 1096.5,220.5 1097.5,220.5 1098.5,220.5 1099.5,220.5 1100.5,220.5 1101.5,220.5 1102.5,220.5 1103.5,220.5 1104.5,220.5 1105.5,220.5 1106.5,220.5 1107.5,221.5 1108.5,221.5 1109.5,221.5 1110.5,221.5 1111.5,220.5 1112.5,220.5 1113.5,220.5 1114.5,220.5 1115.5,220.5 1116.5,220.5 1117.5,220.5 1118.5,220.5 1119.5,220.5 1120.5,220.5 1121.5,220.5 1122.5,220.5 1123.5,220.5 1124.5,220.5 1125.5,220.5 1126.5,220.5 1127.5,220.5 1128.5,220.5 1129.5,220.5 1130.5,221.5 1131.5,220.5 1132.5,220.5 1133.5,220.5 1134.5,220.5 1135.5,220.5 1136.5,220.5 1137.5,220.5 1138.5,220.5 1139.5,220.5 1140.5,220.5 1141.5,220.5 1142.5,220.5 1143.5,220.5 1144.5,220.5 1145.5,220.5 1146.5,220.5 1147.5,220.5 1148.5,220.5 1149.5,220.5"/>
    <polyline class="curve" stroke="#ffff00" points="382.5,143.5 382.5,134.5 383.5,129.5 384.5,131.5 385.5,146.5 385.5,133.5 386.5,140.5 387.5,134.5 387.5,146.5 388.5,152.5 388.5,160.5 390.5,161.5 390.5,165.5 391.5,160.5 392.5,166.5 394.5,171.5 397.5,178.5 400.5,183.5 404.5,193.5 408.5,203.5 409.5,207.5 411.5,202.5 412.5,197.5 413.5,190.5 413.5,145.5 414.5,147.5 414.5,196.5 415.5,184.5 416.5,204.5 417.5,208.5 418.5,175.5 419.5,189.5 420.5,206.5 421.5,201.5 423.5,204.5 424.5,206.5 425.5,200.5 426.5,195.5 427.5,201.5 429.5,198.5 431.5,197.5 433.5,195.5 436.5,195.5 440.5,192.5 441.5,191.5 442.5,191.5 443.5,190.5 444.5,191.5 445.5,190.5 446.5,188.5 447.5,188.5 448.5,188.5 449.5,187.5 450.5,187.5 451.5,187.5 452.5,187.5 453.5,189.5 454.5,188.5 455.5,189.5 456.5,188.5 457.5,189.5 458.5,190.5 459.5,189.5 460.5,189.5 461.5,190.5 462.5,190.5 463.5,190.5 464.5,191.5 465.5,189.5 466.5,189.5 467.5,190.5 468.5,189.5"/>
    <path class="curve" stroke="#ffff00" d="M468.5,189 V191 M469.5,188 V190 M470.5,189 V190 M471.5,188 V190 M472.5,189 V190 M473.5,189 V191 M474.5,188 V190 M475.5,189 V190 M476.5,188 V190 M477.5,189 V190 M478.5,188 V190 M479.5,188 V190 M480.5,189 V190 M481.5,189 V190 M482.5,188 V190 M483.5,189 V191 M484.5,189 V190 M485.5,189 V190 M486.5,189 V190 M487.5,189 V191 M488.5,189 V190 M489.5,188 V190 M490.5,189 V190 M491.5,189 V191 M492.5,188 V190 M493.5,188 V190 M494.5,189 V191 M495.5,189 V190 M496.5,188 V190 M497.5,189 V190 M498.5,189 V190 M499.5,189 V191 M500.5,189 V190 M501.5,188 V190 M502.5,188 V190 M503.5,188 V190 M504.5,189 V190 M505.5,189 V190 M506.5,189 V191 M507.5,189 V190 M508.5,189 V190 M509.5,189 V191 M510.5,189 V190 M511.5,189 V190 M512.5,189 V191 M513.5,189 V190 M514.5,189 V190 M515.5,189 V190 M516.5,189 V190 M517.5,189 V191 M518.5,189 V190 M519.5,188 V190 M520.5,189 V190 M521.5,189 V190 M522.5,188 V190 M523.5,189 V190 M524.5,188 V190 M525.5,189 V190 M526.5,189 V190 M527.5,189 V190 M528.5,189 V190 M529.5,189 V191 M530.5,189 V190 M531.5,189 V190 M532.5,189 V190 M533.5,189 V190 M534.5,189 V190 M535.5,189 V190 M536.5,189 V190 M537.5,189 V190 M538.5,188 V190 M539.5,189 V190 M540.5,183 V190 M541.5,186 V190 M542.5,189 V190 M543.5,189 V191 M544.5,189 V191 M545.5,189 V190 M546.5,188 V190 M547.5,189 V190 M548.5,188 V190 M549.5,188 V190 M550.5,188 V190 M551.5,189 V190 M552.5,188 V190 M553.5,189 V191 M554.5,189 V191 M555.5,189 V190 M556.5,188 V190 M557.5,189 V190 M558.5,189 V190 M559.5,189 V190 M560.5,189 V190 M561.5,189 V190 M562.5,189 V191 M563.5,189 V190 M564.5,189 V191 M565.5,189 V190 M566.5,189 V190 M567.5,188 V190 M568.5,188 V190 M569.5,189 V191 M570.5,189 V191 M571.5,189 V190 M572.5,189 V190 M573.5,189 V191 M574.5,188 V190 M575.5,189 V190 M576.5,189 V191 M577.5,189 V190 M578.5,189 V190 M579.5,189 V190 M580.5,189 V190 M581.5,161 V190 M582.5,161 V190 M583.5,188 V190 M584.5,189 V190 M585.5,186 V190 M586.5,183 V190 M587.5,188 V190 M588.5,183 V190 M589.5,183 V190 M590.5,188 V191 M591.5,186 V191 M592.5,181 V191 M593.5,186 V191 M594.5,185 V190 M595.5,182 V191 M596.5,188 V190 M597.5,185 V191 M598.5,183 V190 M599.5,188 V191 M600.5,185 V191 M601.5,183 V190 M602.5,187 V190 M603.5,186 V190 M604.5,184 V190 M605.5,186 V190 M606.5,183 V190 M607.5,182 V190 M608.5,187 V190 M609.5,186 V190 M610.5,182 V190 M611.5,187 V190 M612.5,184 V190 M613.5,184 V190 M614.5,188 V190 M615.5,182 V190 M616.5,184 V190 M617.5,188 V190 M618.5,182 V190 M619.5,185 V190 M620.5,186 V190 M621.5,182 V190 M622.5,186 V190 M623.5,188 V190 M624.5,184 V190 M625.5,183 V190 M626.5,187 V190 M627.5,184 V191 M628.5,185 V190 M629.5,186 V190 M630.5,182 V191 M631.5,186 V190 M632.5,187 V190 M633.5,183 V190 M634.5,185 V190 M635.5,187 V191 M636.5,184 V190 M637.5,186 V190 M638.5,187 V190 M639.5,184 V190 M640.5,182 V190 M641.5,187 V190 M642.5,186 V190 M643.5,182 V190 M644.5,188 V190 M645.5,186 V190 M646.5,183 V190 M647.5,187 V191 M648.5,185 V190 M649.5,183 V190 M650.5,187 V190 M651.5,183 V190 M652.5,182 V190 M653.5,188 V190 M654.5,186 V191 M655.5,182 V190 M656.5,186 V190 M657.5,183 V190 M658.5,183 V190 M659.5,187 V190 M660.5,186 V190 M661.5,183 V190 M662.5,188 V190 M663.5,184 V190 M664.5,182 V190 M665.5,188 V190 M666.5,182 V190 M667.5,184 V190 M668.5,186 V190 M669.5,184 V191 M670.5,185 V190 M671.5,187 V191 M672.5,181 V190 M673.5,185 V190 M674.5,187 V191 M675.5,183 V190 M676.5,185 V190 M677.5,188 V191 M678.5,182 V190 M679.5,185 V190 M680.5,188 V190 M681.5,183 V190 M682.5,183 V190 M683.5,187 V190 M684.5,182 V191 M685.5,184 V190 M686.5,187 V190 M687.5,184 V190 M688.5,185 V190 M689.5,188 V190 M690.5,181 V190 M691.5,184 V190 M692.5,186 V190 M693.5,183 V190 M694.5,181 V190 M695.5,187 V191 M696.5,185 V190 M697.5,183 V190 M698.5,188 V190 M699.5,184 V190 M700.5,182 V190 M701.5,187 V190 M702.5,185 V190 M703.5,182 V190 M704.5,187 V190 M705.5,185 V190 M706.5,181 V190 M707.5,187 V190 M708.5,185 V190 M709.5,184 V191 M710.5,188 V190 M711.5,186 V190 M712.5,182 V190 M713.5,188 V190 M714.5,184 V190 M715.5,182 V190 M716.5,187 V191 M717.5,185 V190 M718.5,181 V190 M719.5,188 V190 M720.5,182 V190 M721.5,185 V190 M722.5,187 V190 M723.5,182 V190 M724.5,185 V190 M725.5,188 V190 M726.5,182 V190 M727.5,184 V190 M728.5,188 V191 M729.5,184 V190 M730.5,186 V190 M731.5,186 V190 M732.5,183 V190 M733.5,185 V190 M734.5,188 V190 M735.5,183 V190 M736.5,184 V190 M737.5,188 V190 M738.5,183 V190 M739.5,186 V191 M740.5,186 V190 M741.5,183 V190 M742.5,186 V190 M743.5,186 V191 M744.5,184 V190 M745.5,184 V190 M746.5,186 V191 M747.5,183 V190 M748.5,183 V190 M749.5,186 V190 M750.5,185 V190 M751.5,183 V190 M752.5,186 V190 M753.5,185 V190 M754.5,181 V190 M755.5,187 V190 M756.5,185 V190 M757.5,183 V190 M758.5,188 V190 M759.5,184 V190 M760.5,182 V190 M761.5,188 V190 M762.5,185 V191 M763.5,182 V190 M764.5,186 V190 M765.5,185 V190 M766.5,182 V190 M767.5,188 V190 M768.5,186 V190 M769.5,181 V190 M770.5,186 V190 M771.5,186 V190 M772.5,183 V190 M773.5,188 V190 M774.5,182 V190 M775.5,183 V190 M776.5,188 V191 M777.5,184 V191 M778.5,183 V190 M779.5,187 V190 M780.5,183 V190 M781.5,183 V190 M782.5,188 V190 M783.5,183 V190 M784.5,185 V190 M785.5,188 V191 M786.5,183 V190 M787.5,184 V191 M788.5,188 V190 M789.5,183 V190 M790.5,186 V190 M791.5,188 V190 M792.5,182 V190 M793.5,185 V191 M794.5,187 V190 M795.5,183 V190 M796.5,178 V190 M797.5,182 V190 M798.5,183 V190 M799.5,185 V190 M800.5,187 V190 M801.5,185 V190 M802.5,182 V190 M803.5,188 V190 M804.5,186 V190 M805.5,183 V191 M806.5,188 V190 M807.5,185 V190 M808.5,182 V190 M809.5,188 V191 M810.5,183 V190 M811.5,183 V190 M812.5,188 V190 M813.5,185 V190 M814.5,183 V190 M815.5,186 V190 M816.5,185 V190 M817.5,182 V190 M818.5,187 V190 M819.5,185 V190 M820.5,184 V190 M821.5,188 V190 M822.5,185 V190 M823.5,182 V190 M824.5,187 V191 M825.5,185 V190 M826.5,183 V190 M827.5,188 V190 M828.5,181 V190 M829.5,185 V191 M830.5,188 V190 M831.5,181 V190 M832.5,186 V190 M833.5,188 V190 M834.5,182 V191 M835.5,183 V191 M836.5,188 V191 M837.5,181 V190 M838.5,184 V190 M839.5,186 V190 M840.5,182 V190 M841.5,186 V190 M842.5,186 V191 M843.5,183 V190 M844.5,185 V190 M845.5,186 V191 M846.5,183 V190 M847.5,185 V190 M848.5,187 V190 M849.5,179 V190 M850.5,183 V190 M851.5,189 V190 M852.5,189 V190 M853.5,189 V190 M854.5,188 V190 M855.5,175 V190 M856.5,180 V190 M857.5,189 V190 M858.5,189 V190 M859.5,189 V190 M860.5,189 V190 M861.5,173 V190 M862.5,182 V190 M863.5,189 V190 M864.5,189 V190 M865.5,189 V190 M866.5,189 V190 M867.5,189 V190 M868.5,185 V190 M869.5,189 V190 M870.5,189 V190 M871.5,189 V190 M872.5,189 V190 M873.5,189 V190 M874.5,189 V190 M875.5,189 V190 M876.5,189 V190 M877.5,189 V190 M878.5,189 V190 M879.5,189 V190 M880.5,189 V190 M881.5,189 V190 M882.5,189 V190 M883.5,189 V190 M884.5,189 V190 M885.5,189 V191 M886.5,189 V190 M887.5,189 V190 M888.5,189 V190 M889.5,189 V191 M890.5,188 V190 M891.5,188 V190 M892.5,189 V190 M893.5,189 V190 M894.5,189 V190 M895.5,180 V190 M896.5,183 V190 M897.5,189 V190 M898.5,184 V190 M899.5,189 V190 M900.5,189 V190 M901.5,183 V190 M902.5,188 V190 M903.5,189 V190 M904.5,180 V190 M905.5,184 V190 M906.5,189 V190 M907.5,168 V191 M908.5,181 V190 M909.5,189 V190 M910.5,185 V190 M911.5,189 V190 M912.5,189 V191 M913.5,189 V190 M914.5,189 V190 M915.5,189 V190 M916.5,189 V190 M917.5,189 V190 M918.5,189 V190 M919.5,188 V190 M920.5,189 V190 M921.5,189 V190 M922.5,189 V190 M923.5,189 V190 M924.5,183 V190 M925.5,186 V190 M926.5,188 V190 M927.5,189 V190 M928.5,189 V190 M929.5,189 V190 M930.5,180 V190 M931.5,185 V190 M932.5,188 V190 M933.5,183 V190 M934.5,189 V190 M935.5,189 V190 M936.5,179 V190 M937.5,184 V190 M938.5,189 V190 M939.5,169 V190 M940.5,178 V190 M941.5,185 V190 M942.5,189 V190 M943.5,189 V190 M944.5,189 V190 M945.5,188 V190 M946.5,189 V190 M947.5,189 V190 M948.5,189 V190 M949.5,189 V190 M950.5,188 V190 M951.5,189 V190 M952.5,185 V190 M953.5,186 V190 M954.5,189 V190 M955.5,185 V190 M956.5,189 V190 M957.5,189 V190 M958.5,183 V190 M959.5,184 V190 M960.5,169 V190 M961.5,168 V190 M962.5,189 V190 M963.5,186 V190 M964.5,186 V190 M965.5,189 V190 M966.5,189 V190 M967.5,189 V190 M968.5,189 V190 M969.5,189 V190 M970.5,188 V190 M971.5,189 V190 M972.5,189 V190 M973.5,189 V190 M974.5,188 V190 M975.5,183 V190 M976.5,184 V190 M977.5,189 V190 M978.5,185 V190 M979.5,189 V190 M980.5,185 V190 M981.5,184 V190 M982.5,188 V190 M983.5,177 V190 M984.5,175 V190 M985.5,189 V190 M986.5,183 V190 M987.5,181 V190 M988.5,189 V190 M989.5,181 V190 M990.5,176 V190 M991.5,189 V190 M992.5,189 V190 M993.5,189 V190 M994.5,189 V191 M995.5,189 V190 M996.5,189 V190 M997.5,189 V190 M998.5,189 V190 M999.5,189 V190 M1000.5,189 V190 M1001.5,185 V190 M1002.5,189 V190 M1003.5,189 V191 M1004.5,185 V190 M1005.5,189 V190 M1006.5,171 V190 M1007.5,169 V190 M1008.5,189 V190 M1009.5,189 V190 M1010.5,186 V190 M1011.5,189 V190 M1012.5,189 V190 M1013.5,187 V190 M1014.5,189 V191 M1015.5,189 V190 M1016.5,189 V190 M1017.5,189 V190 M1018.5,189 V190 M1019.5,188 V190 M1020.5,189 V190 M1021.5,189 V191 M1022.5,189 V190 M1023.5,189 V190 M1024.5,189 V190 M1025.5,189 V190 M1026.5,189 V190 M1027.5,189 V190 M1028.5,186 V190 M1029.5,189 V190 M1030.5,184 V190 M1031.5,167 V190 M1032.5,174 V191 M1033.5,184 V190 M1034.5,189 V190 M1035.5,189 V190 M1036.5,189 V190 M1037.5,189 V191 M1038.5,189 V190 M1039.5,189 V190 M1040.5,189 V190 M1041.5,189 V190 M1042.5,189 V190 M1043.5,188 V190 M1044.5,189 V190 M1045.5,189 V190 M1046.5,181 V190 M1047.5,180 V190 M1048.5,189 V190 M1049.5,189 V190 M1050.5,184 V190 M1051.5,188 V190 M1052.5,189 V191 M1053.5,184 V190 M1054.5,189 V190 M1055.5,182 V190 M1056.5,178 V190 M1057.5,189 V191 M1058.5,189 V190 M1059.5,186 V190 M1060.5,189 V190 M1061.5,170 V190 M1062.5,148 V190 M1063.5,170 V190 M1064.5,185 V190 M1065.5,189 V190 M1066.5,189 V190 M1067.5,189 V190 M1068.5,189 V190 M1069.5,189 V190 M1070.5,189 V190 M1071.5,186 V190 M1072.5,189 V190 M1073.5,188 V190 M1074.5,179 V190 M1075.5,184 V190 M1076.5,189 V190 M1077.5,185 V190 M1078.5,189 V190 M1079.5,189 V190 M1080.5,185 V191 M1081.5,188 V190 M1082.5,189 V190 M1083.5,148 V190 M1084.5,152 V190 M1085.5,182 V190 M1086.5,189 V190 M1087.5,189 V190 M1088.5,189 V190 M1089.5,189 V191 M1090.5,189 V190 M1091.5,189 V190 M1092.5,189 V190 M1093.5,189 V191 M1094.5,189 V190 M1095.5,185 V190 M1096.5,189 V190 M1097.5,189 V190 M1098.5,164 V191 M1099.5,154 V190 M1100.5,180 V190 M1101.5,189 V190 M1102.5,188 V190 M1103.5,189 V190 M1104.5,189 V190 M1105.5,189 V190 M1106.5,189 V190 M1107.5,189 V190 M1108.5,189 V191 M1109.5,189 V190 M1110.5,189 V190 M1111.5,189 V190 M1112.5,189 V190 M1113.5,183 V190 M1114.5,186 V190 M1115.5,189 V190 M1116.5,189 V190 M1117.5,189 V190 M1118.5,189 V190 M1119.5,189 V191 M1120.5,186 V190 M1121.5,189 V190 M1122.5,184 V190 M1123.5,188 V190 M1124.5,185 V190 M1125.5,189 V190 M1126.5,183 V190 M1127.5,189 V190 M1128.5,189 V191 M1129.5,186 V190 M1130.5,189 V190 M1131.5,173 V190 M1132.5,183 V190 M1133.5,189 V190 M1134.5,185 V190 M1135.5,189 V190 M1136.5,186 V190 M1137.5,189 V190 M1138.5,189 V190 M1139.5,188 V190 M1140.5,189 V190 M1141.5,189 V190 M1142.5,189 V190 M1143.5,189 V190 M1144.5,189 V190 M1145.5,189 V190 M1146.5,189 V191 M1147.5,189 V190 M1148.5,189 V191 M1149.5,189 V191"/>
  </g>

  <!-- axes -->
  <g class="crisp" fill="none" stroke="#000" stroke-width="1">
    <path d="M381.5,66 V530 M368,523.5 H1150" />
    <path d="M368,66.5 H382 M375,72.5 H382 M375,81.5 H382 M375,94.5 H382 M368,123.5 H382 M375,129.5 H382 M375,138.5 H382 M375,151.5 H382 M368,180.5 H382 M375,186.5 H382 M375,195.5 H382 M375,208.5 H382 M368,237.5 H382 M375,243.5 H382 M375,252.5 H382 M375,265.5 H382 M368,294.5 H382 M375,301.5 H382 M375,309.5 H382 M375,322.5 H382 M368,351.5 H382 M375,358.5 H382 M375,366.5 H382 M375,379.5 H382 M368,409.5 H382 M375,415.5 H382 M375,423.5 H382 M375,436.5 H382 M368,466.5 H382 M375,472.5 H382 M375,481.5 H382 M375,494.5 H382 M368,523.5 H382 M381.5,523 V530 M400.5,523 V527 M420.5,523 V527 M439.5,523 V527 M458.5,523 V530 M477.5,523 V527 M496.5,523 V527 M515.5,523 V527 M535.5,523 V530 M554.5,523 V527 M573.5,523 V527 M592.5,523 V527 M611.5,523 V530 M631.5,523 V527 M650.5,523 V527 M669.5,523 V527 M688.5,523 V530 M707.5,523 V527 M726.5,523 V527 M746.5,523 V527 M765.5,523 V530 M784.5,523 V527 M803.5,523 V527 M822.5,523 V527 M842.5,523 V530 M861.5,523 V527 M880.5,523 V527 M899.5,523 V527 M918.5,523 V530 M938.5,523 V527 M957.5,523 V527 M976.5,523 V527 M995.5,523 V530 M1014.5,523 V527 M1033.5,523 V527 M1053.5,523 V527 M1072.5,523 V530 M1091.5,523 V527 M1110.5,523 V527 M1129.5,523 V527 M1149.5,523 V530" />
  </g>
  <g class="ticks">
    <text x="353.5" y="73.8" text-anchor="end" style="letter-spacing:0">1e+01</text>
    <text x="353.5" y="130.9" text-anchor="end" style="letter-spacing:0">1e+00</text>
    <text x="356" y="188.0" text-anchor="end">1e-01</text>
    <text x="356" y="245.2" text-anchor="end">1e-02</text>
    <text x="356" y="302.3" text-anchor="end">1e-03</text>
    <text x="356" y="359.4" text-anchor="end">1e-04</text>
    <text x="356" y="416.5" text-anchor="end">1e-05</text>
    <text x="356" y="473.7" text-anchor="end">1e-06</text>
    <text x="356" y="530.8" text-anchor="end">1e-07</text>
    <text x="380.6" y="559" text-anchor="middle">0</text>
    <text x="457.4" y="559" text-anchor="middle">100</text>
    <text x="534.2" y="559" text-anchor="middle">200</text>
    <text x="611.0" y="559" text-anchor="middle">300</text>
    <text x="687.8" y="559" text-anchor="middle">400</text>
    <text x="764.6" y="559" text-anchor="middle">500</text>
    <text x="841.4" y="559" text-anchor="middle">600</text>
    <text x="918.2" y="559" text-anchor="middle">700</text>
    <text x="995.0" y="559" text-anchor="middle">800</text>
    <text x="1070.7" y="559" text-anchor="middle">900</text>
    <text x="1148.6" y="559" text-anchor="middle">1000</text>
  </g>
  <text class="xlabel" x="764.5" y="596.5" text-anchor="middle">Iterations</text>
</svg>
</body>
</html>
